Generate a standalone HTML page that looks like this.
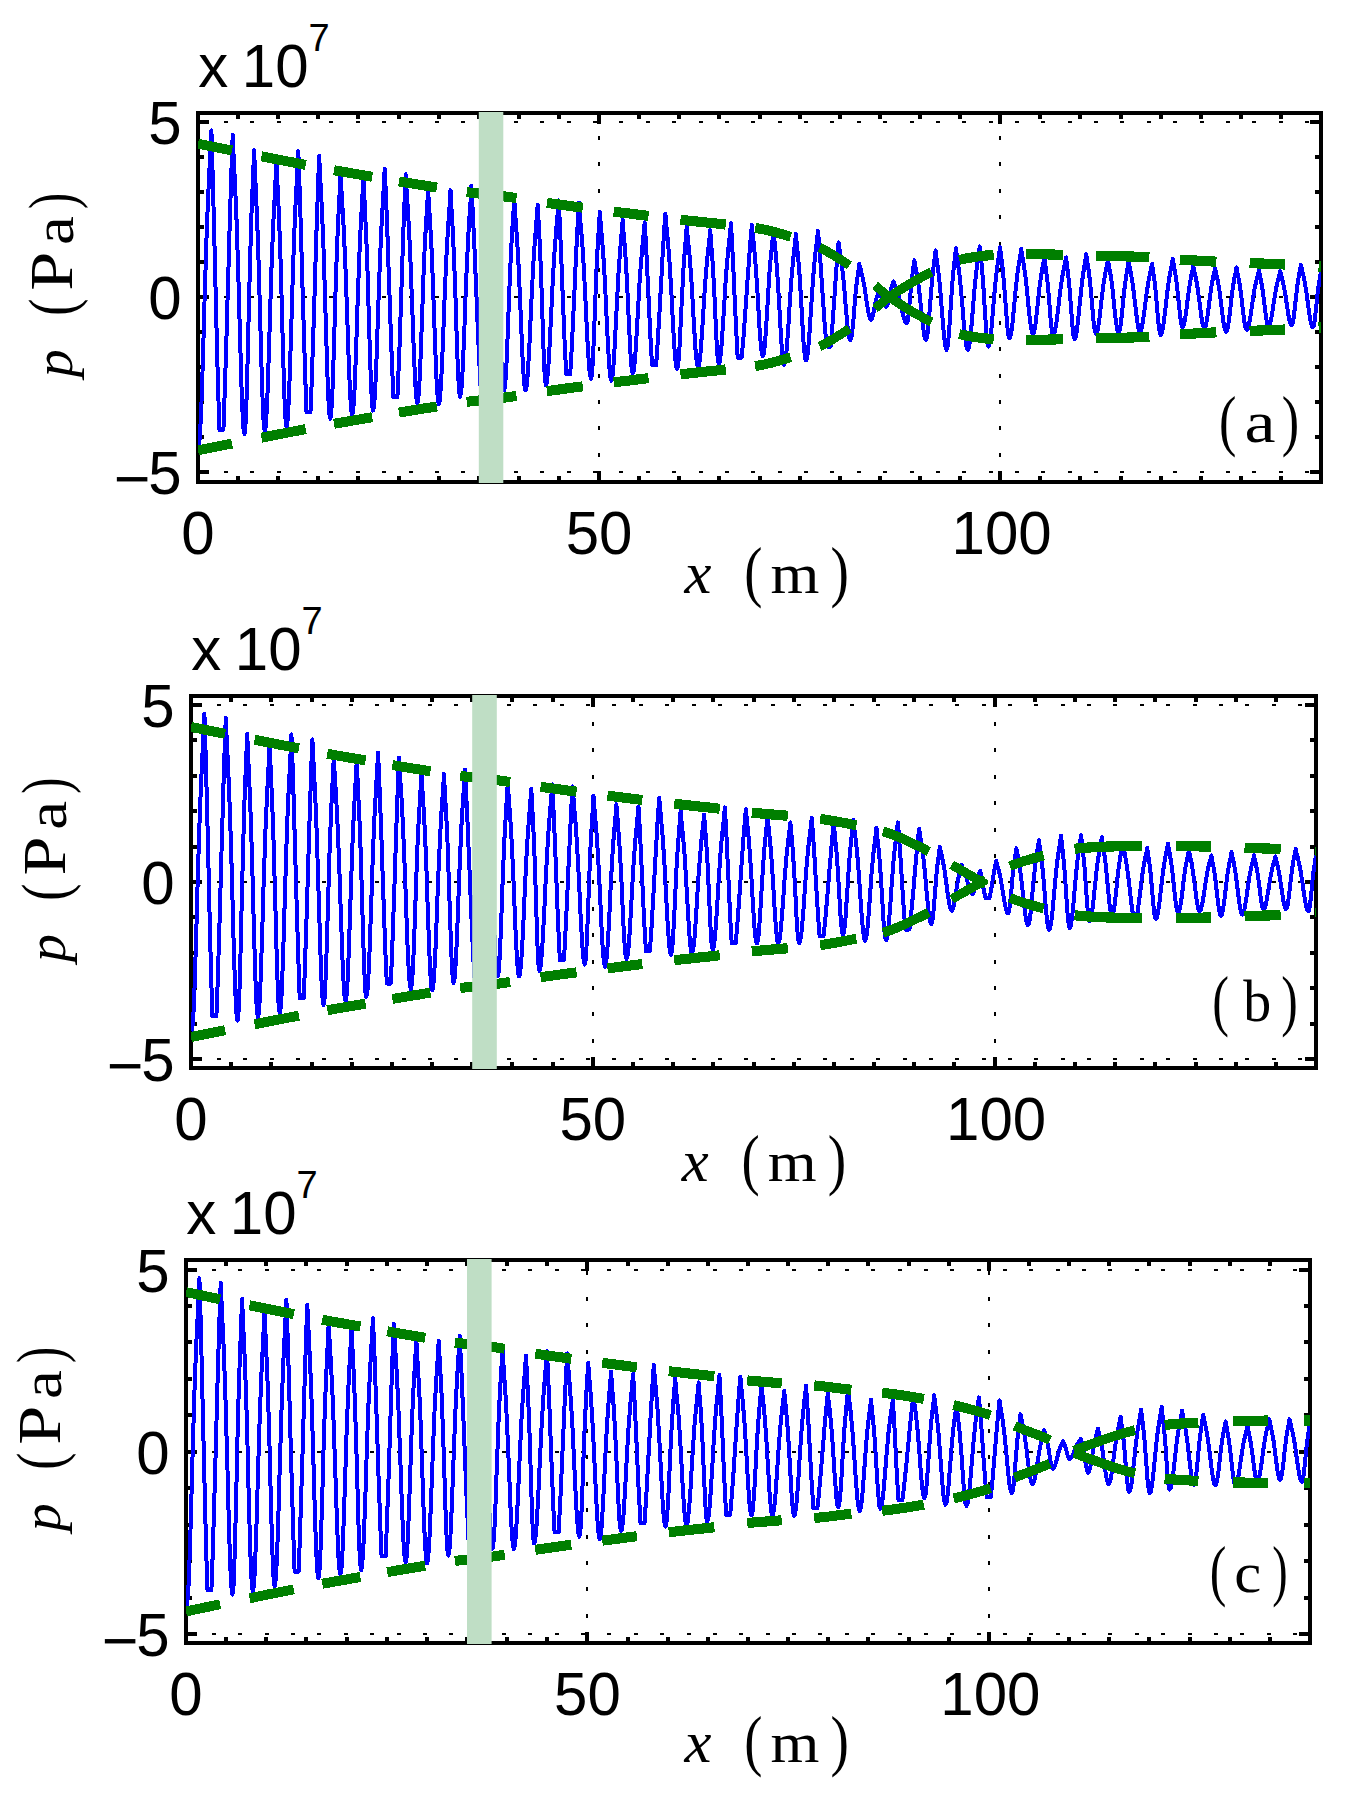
<!DOCTYPE html>
<html lang="en"><head><meta charset="utf-8"><title>Pressure waveforms</title>
<style>
html,body{margin:0;padding:0;background:#fff;}
svg{display:block;}
</style></head>
<body>
<svg width="1358" height="1798" viewBox="0 0 1358 1798">
<rect width="1358" height="1798" fill="#fff"/>
<g id="panel-a">
<clipPath id="clip-a"><rect x="198" y="113" width="1123" height="369"/></clipPath>
<g stroke="#000" stroke-width="2" fill="none" shape-rendering="crispEdges"><line x1="224" y1="122" x2="1321" y2="122" stroke-dasharray="4 22.366"/><line x1="224" y1="297.0" x2="1321" y2="297.0" stroke-dasharray="4 22.366"/><line x1="224" y1="472" x2="1321" y2="472" stroke-dasharray="4 22.366"/><line x1="599.1" y1="483.2" x2="599.1" y2="113" stroke-dasharray="4 22.4"/><line x1="1000.1" y1="483.2" x2="1000.1" y2="113" stroke-dasharray="4 22.4"/></g>
<path d="M198.0 113 v11.2 M198.0 482 v-11.2 M238.1 113 v5.6 M238.1 482 v-5.6 M278.2 113 v5.6 M278.2 482 v-5.6 M318.3 113 v5.6 M318.3 482 v-5.6 M358.4 113 v5.6 M358.4 482 v-5.6 M398.5 113 v5.6 M398.5 482 v-5.6 M438.6 113 v5.6 M438.6 482 v-5.6 M478.8 113 v5.6 M478.8 482 v-5.6 M518.9 113 v5.6 M518.9 482 v-5.6 M559.0 113 v5.6 M559.0 482 v-5.6 M599.1 113 v11.2 M599.1 482 v-11.2 M639.2 113 v5.6 M639.2 482 v-5.6 M679.3 113 v5.6 M679.3 482 v-5.6 M719.4 113 v5.6 M719.4 482 v-5.6 M759.5 113 v5.6 M759.5 482 v-5.6 M799.6 113 v5.6 M799.6 482 v-5.6 M839.7 113 v5.6 M839.7 482 v-5.6 M879.8 113 v5.6 M879.8 482 v-5.6 M919.9 113 v5.6 M919.9 482 v-5.6 M960.0 113 v5.6 M960.0 482 v-5.6 M1000.1 113 v11.2 M1000.1 482 v-11.2 M1040.2 113 v5.6 M1040.2 482 v-5.6 M1080.4 113 v5.6 M1080.4 482 v-5.6 M1120.5 113 v5.6 M1120.5 482 v-5.6 M1160.6 113 v5.6 M1160.6 482 v-5.6 M1200.7 113 v5.6 M1200.7 482 v-5.6 M1240.8 113 v5.6 M1240.8 482 v-5.6 M1280.9 113 v5.6 M1280.9 482 v-5.6 M1321.0 113 v5.6 M1321.0 482 v-5.6 M198 472.0 h11.2 M1321 472.0 h-11.2 M198 437.0 h5.6 M1321 437.0 h-5.6 M198 402.0 h5.6 M1321 402.0 h-5.6 M198 367.0 h5.6 M1321 367.0 h-5.6 M198 332.0 h5.6 M1321 332.0 h-5.6 M198 297.0 h11.2 M1321 297.0 h-11.2 M198 262.0 h5.6 M1321 262.0 h-5.6 M198 227.0 h5.6 M1321 227.0 h-5.6 M198 192.0 h5.6 M1321 192.0 h-5.6 M198 157.0 h5.6 M1321 157.0 h-5.6 M198 122.0 h11.2 M1321 122.0 h-11.2" stroke="#000" stroke-width="4" fill="none" shape-rendering="crispEdges"/>
<rect x="198" y="113" width="1123" height="369" fill="none" stroke="#000" stroke-width="4"/>
<path clip-path="url(#clip-a)" d="M198.5 444.8 L199.4 441.1 L200.2 430.0 L201.1 412.2 L202.0 388.9 L202.8 361.7 L203.7 332.2 L204.5 302.2 L205.4 273.3 L206.2 246.6 L207.1 222.7 L207.9 201.8 L208.8 183.4 L209.6 166.5 L210.5 149.5 L211.4 130.4 L211.4 130.4 L212.2 158.8 L213.1 190.6 L214.0 225.2 L214.9 261.6 L215.8 298.6 L216.7 335.0 L217.6 369.6 L218.5 401.4 L219.4 429.8 L223.4 429.8 L224.2 407.2 L225.1 382.2 L225.9 355.2 L226.8 326.7 L227.6 297.2 L228.5 267.3 L229.3 237.8 L230.2 209.2 L231.0 182.3 L231.9 157.3 L232.7 134.7 L232.7 134.7 L233.5 154.1 L234.4 171.3 L235.2 188.7 L236.1 208.1 L236.9 230.4 L237.7 255.9 L238.6 284.4 L239.4 314.6 L240.3 345.1 L241.1 373.8 L241.9 398.7 L242.8 418.0 L243.6 430.1 L244.5 434.1 L244.5 434.1 L245.3 427.9 L246.2 409.7 L247.1 381.5 L247.9 347.1 L248.8 310.3 L249.7 274.7 L250.6 243.0 L251.4 216.3 L252.3 193.9 L253.2 173.2 L254.1 150.2 L254.1 150.2 L255.0 171.2 L255.8 189.9 L256.7 209.7 L257.6 232.6 L258.5 259.7 L259.4 290.6 L260.3 323.7 L261.2 356.7 L262.1 386.6 L263.0 410.5 L263.8 425.8 L264.7 430.9 L264.7 430.9 L265.6 427.3 L266.4 416.4 L267.3 399.1 L268.1 376.6 L268.9 350.7 L269.8 323.3 L270.6 296.1 L271.4 270.5 L272.3 247.5 L273.1 227.4 L274.0 210.0 L274.8 194.4 L275.6 178.8 L276.5 161.4 L276.5 161.4 L277.3 181.2 L278.2 198.9 L279.0 217.5 L279.8 239.2 L280.7 264.8 L281.5 294.0 L282.3 325.3 L283.2 356.5 L284.0 384.8 L284.8 407.3 L285.7 421.8 L286.5 426.6 L286.5 426.6 L287.4 422.9 L288.2 411.8 L289.0 394.1 L289.9 371.1 L290.7 344.7 L291.6 316.7 L292.4 288.9 L293.2 262.7 L294.1 239.2 L294.9 218.6 L295.7 200.9 L296.6 184.8 L297.4 169.0 L298.3 151.1 L298.3 151.1 L299.2 175.9 L300.1 203.6 L301.0 233.7 L301.9 265.5 L302.8 297.7 L303.8 329.4 L304.7 359.6 L305.6 387.3 L306.5 412.1 L310.5 412.1 L311.4 390.4 L312.2 366.2 L313.1 340.1 L314.0 312.5 L314.9 284.1 L315.7 255.7 L316.6 228.0 L317.5 201.9 L318.3 177.8 L319.2 156.0 L319.2 156.0 L320.0 174.3 L320.9 190.5 L321.8 207.2 L322.6 226.1 L323.5 248.3 L324.3 273.7 L325.2 301.5 L326.0 330.4 L326.9 358.3 L327.7 383.0 L328.6 402.4 L329.4 414.6 L330.3 418.7 L330.3 418.7 L331.1 414.2 L332.0 400.9 L332.9 380.0 L333.7 353.8 L334.6 324.9 L335.4 295.9 L336.3 268.9 L337.1 245.2 L338.0 225.1 L338.8 207.8 L339.7 191.4 L340.5 173.1 L340.5 173.1 L341.4 188.8 L342.2 202.7 L343.1 216.8 L343.9 232.4 L344.7 250.4 L345.6 271.0 L346.4 294.0 L347.3 318.4 L348.1 343.0 L348.9 366.2 L349.8 386.3 L350.6 401.9 L351.5 411.6 L352.3 414.9 L352.3 414.9 L353.1 411.2 L354.0 400.1 L354.9 382.6 L355.7 360.3 L356.6 335.0 L357.4 308.9 L358.3 283.7 L359.1 260.8 L360.0 240.8 L360.8 223.6 L361.7 208.5 L362.5 193.9 L363.4 177.4 L363.4 177.4 L364.3 196.2 L365.1 213.2 L366.0 231.6 L366.9 253.6 L367.8 279.7 L368.6 308.9 L369.5 339.1 L370.4 367.4 L371.3 390.5 L372.1 405.5 L373.0 410.6 L373.0 410.6 L373.8 407.4 L374.7 397.6 L375.5 382.1 L376.4 361.9 L377.2 338.7 L378.0 314.1 L378.9 289.7 L379.7 266.7 L380.6 246.1 L381.4 228.1 L382.2 212.5 L383.1 198.4 L383.9 184.5 L384.7 168.8 L384.7 168.8 L385.6 188.2 L386.5 209.8 L387.4 233.1 L388.2 257.7 L389.1 283.1 L390.0 308.4 L390.8 333.1 L391.7 356.4 L392.6 378.0 L393.4 397.4 L397.4 397.4 L398.3 376.2 L399.3 352.5 L400.2 326.7 L401.1 299.6 L402.0 272.0 L402.9 244.8 L403.8 219.1 L404.8 195.3 L405.7 174.2 L405.7 174.2 L406.5 189.0 L407.4 202.2 L408.2 215.5 L409.0 230.3 L409.9 247.3 L410.7 266.9 L411.5 288.6 L412.4 311.8 L413.2 335.0 L414.1 357.0 L414.9 376.1 L415.7 390.8 L416.6 400.1 L417.4 403.1 L417.4 403.1 L418.3 399.2 L419.2 387.6 L420.1 369.4 L421.0 346.5 L421.9 321.4 L422.8 296.1 L423.6 272.6 L424.5 251.9 L425.4 234.4 L426.3 219.4 L427.2 205.1 L428.1 189.1 L428.1 189.1 L429.0 205.2 L429.9 219.5 L430.8 234.7 L431.7 252.2 L432.5 273.0 L433.4 296.7 L434.3 322.0 L435.2 347.3 L436.1 370.3 L437.0 388.6 L437.9 400.3 L438.8 404.2 L438.8 404.2 L439.6 401.3 L440.4 392.7 L441.3 378.9 L442.1 361.1 L443.0 340.6 L443.8 318.8 L444.6 297.2 L445.5 276.9 L446.3 258.6 L447.2 242.6 L448.0 228.8 L448.8 216.4 L449.7 204.1 L450.5 190.2 L450.5 190.2 L451.4 206.9 L452.3 221.9 L453.1 238.2 L454.0 257.7 L454.9 280.8 L455.8 306.6 L456.6 333.4 L457.5 358.5 L458.4 378.9 L459.3 392.2 L460.1 396.7 L460.1 396.7 L461.0 393.4 L461.9 383.6 L462.7 368.1 L463.6 348.3 L464.5 325.9 L465.3 302.7 L466.2 280.3 L467.1 259.9 L468.0 242.2 L468.8 227.0 L469.7 213.6 L470.6 200.5 L471.4 185.9 L471.4 185.9 L472.3 201.7 L473.1 219.1 L474.0 237.8 L474.9 257.7 L475.7 278.2 L476.6 299.0 L477.4 319.6 L478.3 339.5 L479.1 358.2 L480.0 375.6 L480.8 391.4 L484.8 391.4 L485.7 372.5 L486.6 351.3 L487.6 328.3 L488.5 304.1 L489.4 279.5 L490.3 255.4 L491.2 232.4 L492.1 211.2 L493.1 192.3 L493.1 192.3 L493.9 206.1 L494.8 218.3 L495.6 230.9 L496.5 245.2 L497.3 261.8 L498.2 281.0 L499.0 302.0 L499.9 323.8 L500.7 344.8 L501.6 363.4 L502.5 378.0 L503.3 387.2 L504.2 390.3 L504.2 390.3 L505.0 386.8 L505.8 376.4 L506.7 360.1 L507.5 339.7 L508.3 317.1 L509.2 294.5 L510.0 273.4 L510.9 255.0 L511.7 239.3 L512.5 225.8 L513.4 213.0 L514.2 198.7 L514.2 198.7 L515.1 212.0 L515.9 223.9 L516.8 236.0 L517.7 249.9 L518.6 266.0 L519.4 284.5 L520.3 304.8 L521.2 325.9 L522.0 346.3 L522.9 364.3 L523.8 378.4 L524.6 387.3 L525.5 390.3 L525.5 390.3 L526.4 387.8 L527.3 380.3 L528.1 368.4 L529.0 352.9 L529.9 335.1 L530.7 316.2 L531.6 297.5 L532.5 279.9 L533.3 264.0 L534.2 250.2 L535.1 238.2 L536.0 227.4 L536.8 216.7 L537.7 204.7 L537.7 204.7 L538.6 222.2 L539.5 238.5 L540.4 257.6 L541.3 281.4 L542.2 308.9 L543.1 337.3 L544.0 362.2 L544.9 379.1 L545.8 385.0 L545.8 385.0 L546.7 382.8 L547.5 376.3 L548.4 365.9 L549.2 352.2 L550.1 336.2 L550.9 318.9 L551.8 301.3 L552.6 284.3 L553.5 268.6 L554.3 254.6 L555.2 242.3 L556.1 231.5 L556.9 221.6 L557.8 211.7 L558.6 200.4 L558.6 200.4 L559.5 216.9 L560.3 235.4 L561.2 255.5 L562.0 276.6 L562.8 298.1 L563.7 319.2 L564.5 339.3 L565.4 357.8 L566.2 374.3 L570.2 374.3 L571.1 359.7 L572.0 343.5 L572.8 326.0 L573.7 307.5 L574.6 288.4 L575.4 269.4 L576.3 250.9 L577.2 233.3 L578.0 217.1 L578.9 202.6 L578.9 202.6 L579.8 214.0 L580.6 224.1 L581.5 234.4 L582.4 245.7 L583.3 258.8 L584.1 273.8 L585.0 290.6 L585.9 308.3 L586.7 326.2 L587.6 343.1 L588.5 357.8 L589.3 369.1 L590.2 376.2 L591.1 378.6 L591.1 378.6 L592.0 374.2 L592.8 361.3 L593.7 341.9 L594.6 318.8 L595.5 295.0 L596.3 273.3 L597.2 254.8 L598.1 239.7 L599.0 226.3 L599.8 211.5 L599.8 211.5 L600.7 223.3 L601.6 233.7 L602.5 244.5 L603.4 256.7 L604.3 270.9 L605.2 287.3 L606.0 305.2 L606.9 323.8 L607.8 341.8 L608.7 357.7 L609.6 370.2 L610.5 378.1 L611.4 380.7 L611.4 380.7 L612.2 378.2 L613.1 370.7 L614.0 358.9 L614.8 343.8 L615.7 326.7 L616.6 309.1 L617.5 292.0 L618.3 276.5 L619.2 262.9 L620.1 251.4 L620.9 241.1 L621.8 231.2 L622.7 220.1 L622.7 220.1 L623.5 231.5 L624.4 241.7 L625.2 252.5 L626.0 265.0 L626.9 279.8 L627.7 296.7 L628.5 314.7 L629.4 332.7 L630.2 349.1 L631.0 362.1 L631.9 370.4 L632.7 373.2 L632.7 373.2 L633.6 371.2 L634.4 365.1 L635.3 355.4 L636.1 342.8 L637.0 328.3 L637.8 313.0 L638.7 297.7 L639.5 283.4 L640.4 270.5 L641.3 259.2 L642.1 249.5 L643.0 240.7 L643.8 232.0 L644.7 222.2 L644.7 222.2 L645.6 237.6 L646.5 255.0 L647.4 274.0 L648.4 293.8 L649.3 313.6 L650.2 332.5 L651.1 349.9 L652.1 365.3 L656.1 365.3 L656.9 353.7 L657.8 340.9 L658.6 327.0 L659.5 312.3 L660.3 297.2 L661.2 281.8 L662.0 266.7 L662.8 252.0 L663.7 238.1 L664.5 225.3 L665.4 213.7 L665.4 213.7 L666.2 223.7 L667.1 232.7 L667.9 241.7 L668.7 251.7 L669.6 263.3 L670.4 276.6 L671.3 291.3 L672.1 307.0 L672.9 322.8 L673.8 337.7 L674.6 350.6 L675.5 360.6 L676.3 366.9 L677.1 369.0 L677.1 369.0 L678.0 365.9 L678.9 356.7 L679.8 342.6 L680.6 325.3 L681.5 306.8 L682.4 289.0 L683.2 273.1 L684.1 259.6 L685.0 248.4 L685.9 238.0 L686.7 226.5 L686.7 226.5 L687.6 236.3 L688.5 245.0 L689.4 253.9 L690.2 264.1 L691.1 276.0 L692.0 289.6 L692.8 304.6 L693.7 320.1 L694.6 335.1 L695.4 348.3 L696.3 358.7 L697.2 365.3 L698.1 367.5 L698.1 367.5 L698.9 365.6 L699.8 360.1 L700.7 351.3 L701.5 339.8 L702.4 326.7 L703.3 312.7 L704.1 298.9 L705.0 285.9 L705.9 274.2 L706.8 263.9 L707.6 255.1 L708.5 247.1 L709.4 239.2 L710.2 230.3 L710.2 230.3 L711.1 242.1 L711.9 252.9 L712.8 265.0 L713.6 279.7 L714.5 297.2 L715.4 316.2 L716.2 334.7 L717.1 350.2 L717.9 360.5 L718.8 364.0 L718.8 364.0 L719.6 362.2 L720.5 356.5 L721.4 347.4 L722.2 335.7 L723.1 322.2 L724.0 307.9 L724.9 293.7 L725.7 280.3 L726.6 268.3 L727.5 257.8 L728.3 248.7 L729.2 240.5 L730.1 232.4 L730.9 223.3 L730.9 223.3 L731.8 237.7 L732.6 254.1 L733.5 271.9 L734.3 290.5 L735.2 309.0 L736.0 326.8 L736.9 343.2 L737.7 357.6 L741.7 357.6 L742.5 348.3 L743.4 338.2 L744.2 327.2 L745.1 315.6 L745.9 303.6 L746.8 291.3 L747.6 279.0 L748.5 267.0 L749.3 255.4 L750.2 244.5 L751.0 234.3 L751.9 225.0 L751.9 225.0 L752.7 234.1 L753.6 242.2 L754.4 250.5 L755.2 260.0 L756.1 271.0 L756.9 283.7 L757.8 297.6 L758.6 312.1 L759.4 326.0 L760.3 338.3 L761.1 348.0 L762.0 354.1 L762.8 356.1 L762.8 356.1 L763.7 353.8 L764.6 347.0 L765.5 336.3 L766.4 322.9 L767.3 308.1 L768.2 293.2 L769.0 279.4 L769.9 267.3 L770.8 257.0 L771.7 248.1 L772.6 239.7 L773.5 230.3 L773.5 230.3 L774.4 240.4 L775.3 249.3 L776.2 258.8 L777.0 269.8 L777.9 282.7 L778.8 297.5 L779.7 313.4 L780.6 329.2 L781.5 343.5 L782.4 354.9 L783.3 362.2 L784.2 364.7 L784.2 364.7 L785.0 362.9 L785.8 357.7 L786.7 349.3 L787.5 338.4 L788.4 325.8 L789.2 312.5 L790.0 299.3 L790.9 286.9 L791.7 275.7 L792.6 266.0 L793.4 257.6 L794.2 250.0 L795.1 242.4 L795.9 234.0 L795.9 234.0 L796.7 243.4 L797.6 251.8 L798.4 260.7 L799.3 271.1 L800.1 283.3 L800.9 297.2 L801.8 312.1 L802.6 327.0 L803.4 340.5 L804.3 351.2 L805.1 358.1 L805.9 360.4 L805.9 360.4 L806.8 358.7 L807.7 353.5 L808.5 345.1 L809.4 334.3 L810.2 321.9 L811.1 308.7 L811.9 295.6 L812.8 283.3 L813.6 272.2 L814.5 262.5 L815.3 254.2 L816.2 246.6 L817.1 239.2 L817.9 230.8 L817.9 230.8 L818.8 240.6 L819.6 251.5 L820.5 263.3 L821.4 275.8 L822.2 288.6 L823.1 301.5 L824.0 314.0 L824.8 325.8 L825.7 336.7 L826.6 346.5 L830.6 346.5 L831.5 336.7 L832.4 325.6 L833.3 313.6 L834.2 300.9 L835.0 288.1 L835.9 275.4 L836.8 263.4 L837.7 252.4 L838.6 242.5 L838.6 242.5 L839.5 248.8 L840.3 254.5 L841.1 260.1 L842.0 266.4 L842.8 273.7 L843.7 282.0 L844.5 291.3 L845.3 301.2 L846.2 311.1 L847.0 320.5 L847.8 328.6 L848.7 334.9 L849.5 338.8 L850.4 340.1 L850.4 340.1 L851.3 338.1 L852.2 332.2 L853.1 323.4 L854.0 312.8 L854.8 302.0 L855.7 292.0 L856.6 283.6 L857.5 276.7 L858.4 270.6 L859.3 263.9 L859.3 263.9 L860.2 267.5 L861.0 270.7 L861.8 274.0 L862.7 277.6 L863.5 281.7 L864.4 286.5 L865.2 291.8 L866.0 297.5 L866.9 303.2 L867.7 308.6 L868.6 313.2 L869.4 316.8 L870.2 319.1 L871.1 319.8 L871.1 319.8 L872.0 318.7 L872.9 315.5 L873.8 310.9 L874.8 305.9 L875.7 301.5 L876.6 297.9 L877.5 295.0 L878.5 292.0 L878.5 292.0 L879.3 293.5 L880.2 294.8 L881.1 296.4 L881.9 298.3 L882.8 300.6 L883.7 302.9 L884.5 304.9 L885.4 306.3 L886.3 306.8 L886.3 306.8 L887.2 305.8 L888.1 302.8 L889.0 298.6 L889.9 294.1 L890.8 290.1 L891.7 286.8 L892.7 284.2 L893.6 281.4 L893.6 281.4 L894.5 284.0 L895.3 286.3 L896.2 288.5 L897.1 291.0 L898.0 293.7 L898.9 296.9 L899.8 300.5 L900.6 304.4 L901.5 308.4 L902.4 312.3 L903.3 315.9 L904.2 319.0 L905.1 321.4 L905.9 322.9 L906.8 323.4 L906.8 323.4 L907.7 321.3 L908.5 315.4 L909.3 306.7 L910.2 296.7 L911.0 287.1 L911.9 278.8 L912.7 272.1 L913.5 266.4 L914.4 260.2 L914.4 260.2 L915.3 265.8 L916.2 270.7 L917.1 275.7 L918.0 281.5 L918.9 288.2 L919.8 295.9 L920.7 304.4 L921.6 313.1 L922.5 321.6 L923.4 329.1 L924.2 335.0 L925.1 338.7 L926.0 339.9 L926.0 339.9 L926.9 338.0 L927.8 332.2 L928.6 323.3 L929.5 312.5 L930.4 300.8 L931.3 289.6 L932.1 279.6 L933.0 271.1 L933.9 264.1 L934.7 257.5 L935.6 250.3 L935.6 250.3 L936.4 257.2 L937.3 263.3 L938.1 269.7 L939.0 276.9 L939.8 285.3 L940.7 294.9 L941.5 305.5 L942.4 316.4 L943.2 327.0 L944.1 336.4 L944.9 343.7 L945.7 348.3 L946.6 349.9 L946.6 349.9 L947.4 347.7 L948.3 341.1 L949.1 331.1 L950.0 318.7 L950.8 305.6 L951.7 292.8 L952.5 281.5 L953.3 271.9 L954.2 263.9 L955.0 256.5 L955.9 248.3 L955.9 248.3 L956.7 254.9 L957.6 260.7 L958.4 266.6 L959.3 273.2 L960.1 280.8 L961.0 289.4 L961.8 299.1 L962.7 309.3 L963.5 319.7 L964.4 329.4 L965.2 337.9 L966.1 344.4 L966.9 348.5 L967.8 349.9 L967.8 349.9 L968.7 348.5 L969.5 344.3 L970.4 337.7 L971.2 329.0 L972.1 319.1 L972.9 308.6 L973.8 298.1 L974.6 288.3 L975.5 279.4 L976.3 271.7 L977.2 265.0 L978.0 259.0 L978.9 253.0 L979.7 246.3 L979.7 246.3 L980.6 255.2 L981.5 263.2 L982.3 272.3 L983.2 283.4 L984.0 296.4 L984.9 310.7 L985.8 324.5 L986.6 336.2 L987.5 343.9 L988.3 346.6 L988.3 346.6 L989.2 345.0 L990.1 340.4 L991.0 333.0 L991.9 323.7 L992.8 313.1 L993.7 302.1 L994.6 291.6 L995.5 281.9 L996.4 273.6 L997.3 266.4 L998.2 260.0 L999.1 253.9 L1000.0 247.0 L1000.0 247.0 L1000.9 254.3 L1001.7 261.0 L1002.6 268.2 L1003.4 276.7 L1004.3 286.9 L1005.2 298.3 L1006.0 310.1 L1006.9 321.1 L1007.7 330.2 L1008.6 336.0 L1009.4 338.0 L1009.4 338.0 L1010.3 336.8 L1011.1 333.2 L1012.0 327.5 L1012.8 320.1 L1013.6 311.5 L1014.5 302.4 L1015.3 293.4 L1016.2 285.0 L1017.0 277.4 L1017.8 270.7 L1018.7 265.0 L1019.5 259.8 L1020.4 254.7 L1021.2 248.9 L1021.2 248.9 L1022.0 254.4 L1022.9 259.3 L1023.7 264.2 L1024.5 269.7 L1025.4 276.0 L1026.2 283.3 L1027.1 291.3 L1027.9 299.9 L1028.7 308.5 L1029.6 316.6 L1030.4 323.7 L1031.3 329.2 L1032.1 332.6 L1032.9 333.7 L1032.9 333.7 L1033.8 332.5 L1034.7 329.0 L1035.6 323.4 L1036.4 316.2 L1037.3 308.1 L1038.2 299.7 L1039.0 291.6 L1039.9 284.2 L1040.8 277.8 L1041.7 272.3 L1042.5 267.5 L1043.4 262.7 L1044.3 257.4 L1044.3 257.4 L1045.2 264.3 L1046.1 270.5 L1047.0 277.5 L1047.9 286.0 L1048.8 296.1 L1049.7 307.1 L1050.5 317.8 L1051.4 326.8 L1052.3 332.7 L1053.2 334.8 L1053.2 334.8 L1054.1 333.9 L1054.9 331.2 L1055.8 326.8 L1056.7 321.0 L1057.5 314.3 L1058.4 307.1 L1059.2 299.7 L1060.1 292.6 L1060.9 286.0 L1061.8 280.1 L1062.6 275.0 L1063.5 270.5 L1064.3 266.3 L1065.2 262.2 L1066.1 257.4 L1066.1 257.4 L1066.9 264.6 L1067.8 271.2 L1068.6 278.6 L1069.5 287.6 L1070.3 298.3 L1071.2 309.8 L1072.0 321.1 L1072.9 330.6 L1073.7 336.9 L1074.6 339.1 L1074.6 339.1 L1075.4 337.9 L1076.3 334.5 L1077.1 329.0 L1077.9 322.0 L1078.8 313.8 L1079.6 305.2 L1080.5 296.7 L1081.3 288.6 L1082.1 281.3 L1083.0 275.0 L1083.8 269.6 L1084.7 264.6 L1085.5 259.7 L1086.3 254.2 L1086.3 254.2 L1087.2 260.7 L1088.1 266.5 L1089.0 272.7 L1089.8 280.2 L1090.7 289.1 L1091.6 299.1 L1092.5 309.4 L1093.3 319.0 L1094.2 326.9 L1095.1 332.0 L1095.9 333.7 L1095.9 333.7 L1096.8 332.7 L1097.7 329.7 L1098.5 325.0 L1099.4 318.8 L1100.2 311.7 L1101.1 304.1 L1101.9 296.7 L1102.8 289.6 L1103.6 283.3 L1104.5 277.8 L1105.3 273.0 L1106.2 268.7 L1107.1 264.4 L1107.9 259.6 L1107.9 259.6 L1108.8 265.0 L1109.7 269.9 L1110.6 275.1 L1111.5 281.0 L1112.4 288.1 L1113.2 296.1 L1114.1 304.7 L1115.0 313.3 L1115.9 321.1 L1116.8 327.3 L1117.7 331.3 L1118.6 332.7 L1118.6 332.7 L1119.4 331.4 L1120.3 327.5 L1121.1 321.5 L1121.9 313.9 L1122.8 305.6 L1123.6 297.2 L1124.4 289.4 L1125.3 282.5 L1126.1 276.7 L1126.9 271.7 L1127.8 267.0 L1128.6 261.7 L1128.6 261.7 L1129.5 266.6 L1130.4 270.9 L1131.2 275.3 L1132.1 280.4 L1133.0 286.3 L1133.8 293.0 L1134.7 300.4 L1135.6 308.1 L1136.5 315.5 L1137.3 322.1 L1138.2 327.2 L1139.1 330.5 L1139.9 331.6 L1139.9 331.6 L1140.8 330.7 L1141.7 328.0 L1142.5 323.6 L1143.4 317.9 L1144.3 311.4 L1145.2 304.6 L1146.0 297.7 L1146.9 291.3 L1147.8 285.5 L1148.6 280.5 L1149.5 276.1 L1150.4 272.1 L1151.2 268.2 L1152.1 263.9 L1152.1 263.9 L1153.0 270.1 L1153.8 275.8 L1154.7 282.2 L1155.5 290.1 L1156.4 299.3 L1157.2 309.4 L1158.1 319.2 L1158.9 327.5 L1159.8 332.9 L1160.6 334.8 L1160.6 334.8 L1161.5 333.8 L1162.4 330.7 L1163.3 325.8 L1164.1 319.5 L1165.0 312.2 L1165.9 304.5 L1166.7 296.9 L1167.6 289.7 L1168.5 283.2 L1169.3 277.5 L1170.2 272.6 L1171.1 268.2 L1172.0 263.9 L1172.8 258.9 L1172.8 258.9 L1173.7 264.5 L1174.6 269.4 L1175.5 274.9 L1176.4 281.3 L1177.3 288.9 L1178.2 297.5 L1179.1 306.4 L1180.0 314.7 L1180.9 321.4 L1181.8 325.8 L1182.6 327.3 L1182.6 327.3 L1183.5 326.2 L1184.4 322.9 L1185.3 317.6 L1186.2 311.1 L1187.1 303.9 L1188.0 296.7 L1188.9 289.9 L1189.8 284.0 L1190.7 279.0 L1191.5 274.7 L1192.4 270.6 L1193.3 266.0 L1193.3 266.0 L1194.2 270.3 L1195.0 274.2 L1195.9 278.1 L1196.7 282.6 L1197.6 287.9 L1198.4 293.9 L1199.3 300.6 L1200.2 307.4 L1201.0 314.0 L1201.9 319.9 L1202.7 324.5 L1203.6 327.4 L1204.4 328.4 L1204.4 328.4 L1205.3 327.3 L1206.2 324.0 L1207.1 318.9 L1208.0 312.5 L1208.9 305.4 L1209.8 298.3 L1210.7 291.6 L1211.5 285.8 L1212.4 280.9 L1213.3 276.6 L1214.2 272.6 L1215.1 268.1 L1215.1 268.1 L1216.0 272.5 L1216.8 276.4 L1217.7 280.5 L1218.5 285.1 L1219.4 290.4 L1220.2 296.5 L1221.1 303.3 L1221.9 310.3 L1222.8 317.0 L1223.6 323.0 L1224.5 327.6 L1225.4 330.6 L1226.2 331.6 L1226.2 331.6 L1227.1 330.4 L1227.9 326.9 L1228.8 321.5 L1229.6 314.6 L1230.5 307.1 L1231.3 299.5 L1232.2 292.5 L1233.0 286.3 L1233.9 281.1 L1234.7 276.5 L1235.6 272.3 L1236.5 267.5 L1236.5 267.5 L1237.3 272.1 L1238.2 276.3 L1239.0 280.7 L1239.9 285.8 L1240.7 291.8 L1241.6 298.7 L1242.4 306.0 L1243.3 313.4 L1244.1 320.0 L1245.0 325.3 L1245.9 328.7 L1246.7 329.9 L1246.7 329.9 L1247.6 329.1 L1248.4 326.7 L1249.3 322.8 L1250.2 317.9 L1251.1 312.2 L1251.9 306.1 L1252.8 300.1 L1253.7 294.4 L1254.5 289.3 L1255.4 284.9 L1256.3 281.0 L1257.1 277.6 L1258.0 274.1 L1258.9 270.3 L1258.9 270.3 L1259.8 274.8 L1260.6 278.9 L1261.5 283.3 L1262.4 288.6 L1263.2 294.8 L1264.1 301.8 L1265.0 309.1 L1265.9 315.9 L1266.7 321.4 L1267.6 325.0 L1268.5 326.2 L1268.5 326.2 L1269.3 325.5 L1270.2 323.3 L1271.0 319.8 L1271.8 315.2 L1272.7 309.9 L1273.5 304.3 L1274.4 298.8 L1275.2 293.6 L1276.0 288.9 L1276.9 284.8 L1277.7 281.2 L1278.6 278.1 L1279.4 274.9 L1280.2 271.3 L1280.2 271.3 L1281.1 275.1 L1282.0 278.4 L1282.8 281.8 L1283.7 285.7 L1284.6 290.2 L1285.5 295.4 L1286.3 301.2 L1287.2 307.1 L1288.1 312.8 L1288.9 317.9 L1289.8 321.8 L1290.7 324.3 L1291.5 325.2 L1291.5 325.2 L1292.4 323.9 L1293.3 320.0 L1294.1 314.0 L1295.0 306.7 L1295.8 298.9 L1296.7 291.3 L1297.5 284.6 L1298.4 278.9 L1299.2 274.2 L1300.1 269.8 L1300.9 264.9 L1300.9 264.9 L1301.8 269.0 L1302.7 272.6 L1303.5 276.2 L1304.4 280.2 L1305.2 284.9 L1306.1 290.2 L1306.9 296.1 L1307.8 302.4 L1308.6 308.8 L1309.5 314.7 L1310.3 320.0 L1311.2 324.0 L1312.0 326.5 L1312.9 327.3 L1312.9 327.3 L1313.8 325.5 L1314.7 320.3 L1315.6 312.6 L1316.5 303.8 L1317.4 295.3 L1318.3 287.9 L1319.2 282.0 L1320.1 277.0 L1321.0 271.6" fill="none" stroke="#0000ff" stroke-width="4" stroke-linejoin="round" shape-rendering="crispEdges"/>
<path clip-path="url(#clip-a)" d="M199.0 138.8 L202.8 139.6 L206.6 140.4 L210.3 141.1 L214.1 141.9 L217.9 142.6 L221.7 143.4 L225.5 144.1 L229.3 144.9 L233.1 145.6 L231.1 155.4 L227.3 154.6 L223.5 153.9 L219.8 153.1 L216.0 152.4 L212.2 151.6 L208.4 150.8 L204.6 150.1 L200.8 149.3 L197.0 148.6Z M262.4 151.4 L266.1 152.2 L269.8 152.9 L273.5 153.6 L277.2 154.3 L280.8 155.0 L284.5 155.8 L288.2 156.5 L291.9 157.2 L295.6 157.9 L299.3 158.6 L303.0 159.3 L306.7 160.0 L304.8 169.8 L301.1 169.1 L297.4 168.4 L293.7 167.7 L290.0 166.9 L286.3 166.2 L282.6 165.5 L278.9 164.8 L275.3 164.1 L271.6 163.4 L267.9 162.6 L264.2 161.9 L260.5 161.2Z M334.9 165.3 L338.7 166.0 L342.5 166.6 L346.3 167.3 L350.2 167.9 L354.0 168.6 L357.8 169.2 L361.6 169.9 L365.4 170.5 L369.3 171.2 L373.1 171.9 L371.4 181.7 L367.6 181.0 L363.7 180.4 L359.9 179.7 L356.1 179.1 L352.3 178.4 L348.5 177.8 L344.6 177.1 L340.8 176.4 L337.0 175.8 L333.2 175.1Z M399.8 176.4 L403.6 177.1 L407.4 177.7 L411.2 178.3 L415.0 179.0 L418.8 179.6 L422.6 180.2 L426.4 180.8 L430.2 181.4 L434.0 182.0 L437.7 182.6 L436.2 192.5 L432.4 191.9 L428.6 191.3 L424.8 190.7 L421.0 190.1 L417.2 189.4 L413.4 188.8 L409.6 188.2 L405.8 187.6 L402.0 186.9 L398.2 186.3Z M467.4 187.1 L471.1 187.6 L474.9 188.0 L478.7 188.4 L482.6 188.8 L486.4 189.2 L490.2 189.7 L494.1 190.1 L497.9 190.5 L501.8 191.0 L505.6 191.5 L509.5 192.0 L513.4 192.6 L517.2 193.2 L515.7 203.1 L511.9 202.5 L508.1 202.0 L504.3 201.5 L500.5 201.0 L496.7 200.5 L492.9 200.1 L489.1 199.7 L485.3 199.3 L481.5 198.9 L477.6 198.5 L473.8 198.0 L469.9 197.6 L466.1 197.1Z M547.6 197.9 L551.6 198.4 L555.6 199.0 L559.6 199.5 L563.6 200.1 L567.6 200.6 L571.5 201.1 L575.5 201.7 L579.5 202.2 L583.5 202.7 L582.2 212.7 L578.2 212.2 L574.2 211.6 L570.2 211.1 L566.2 210.6 L562.2 210.0 L558.2 209.5 L554.2 208.9 L550.2 208.4 L546.2 207.8Z M614.4 206.6 L618.2 207.1 L622.1 207.6 L625.9 208.1 L629.8 208.5 L633.7 209.0 L637.5 209.5 L641.4 209.9 L645.2 210.4 L649.1 210.9 L647.9 220.9 L644.0 220.4 L640.2 219.9 L636.3 219.5 L632.4 219.0 L628.6 218.5 L624.7 218.1 L620.9 217.6 L617.0 217.1 L613.1 216.6Z M681.0 214.7 L684.7 215.1 L688.5 215.5 L692.3 215.9 L696.1 216.3 L699.8 216.7 L703.6 217.1 L707.4 217.5 L711.2 217.9 L715.0 218.3 L718.8 218.7 L722.6 219.1 L726.4 219.5 L725.2 229.6 L721.5 229.1 L717.7 228.7 L713.9 228.3 L710.1 227.9 L706.4 227.5 L702.6 227.1 L698.8 226.7 L695.0 226.4 L691.2 225.9 L687.4 225.5 L683.6 225.1 L679.8 224.7Z M755.9 223.0 L760.0 223.7 L764.0 224.5 L768.1 225.4 L772.2 226.4 L776.2 227.4 L780.2 228.6 L784.2 229.7 L788.2 230.9 L792.1 232.1 L789.3 241.4 L785.3 240.2 L781.4 239.1 L777.5 238.0 L773.6 236.9 L769.8 235.9 L765.9 235.0 L762.1 234.2 L758.3 233.5 L754.4 232.9Z M821.5 243.3 L825.4 245.2 L829.2 247.3 L833.0 249.5 L836.8 251.8 L840.6 254.2 L844.4 256.7 L848.2 259.2 L851.9 261.7 L846.8 269.3 L843.1 266.8 L839.4 264.4 L835.7 262.0 L832.0 259.7 L828.3 257.5 L824.7 255.5 L821.1 253.6 L817.5 251.9Z M877.8 281.9 L881.6 285.1 L885.4 288.2 L889.1 291.1 L892.7 293.7 L896.4 296.2 L900.2 298.7 L903.9 301.1 L907.6 303.4 L911.3 305.7 L915.1 307.9 L918.8 310.0 L922.5 312.0 L926.2 314.0 L929.9 316.0 L933.7 317.8 L929.4 326.3 L925.6 324.3 L921.8 322.3 L918.0 320.2 L914.2 318.1 L910.4 315.9 L906.6 313.6 L902.7 311.3 L898.9 308.9 L895.1 306.4 L891.3 303.8 L887.5 301.2 L883.5 298.3 L879.7 295.1 L875.9 292.0 L872.2 289.0Z M960.3 329.3 L964.0 330.1 L967.8 330.8 L971.5 331.4 L975.3 332.0 L979.0 332.6 L982.7 333.0 L986.4 333.4 L990.1 333.7 L993.9 334.0 L993.3 344.1 L989.4 343.8 L985.4 343.5 L981.5 343.0 L977.6 342.5 L973.7 341.9 L969.8 341.3 L965.9 340.6 L962.0 339.8 L958.2 338.9Z M1025.8 335.1 L1029.4 335.1 L1033.1 335.0 L1036.7 334.9 L1040.4 334.8 L1044.1 334.7 L1047.8 334.5 L1051.5 334.4 L1055.2 334.3 L1058.9 334.2 L1062.6 334.1 L1062.8 344.3 L1059.2 344.4 L1055.5 344.5 L1051.8 344.6 L1048.1 344.7 L1044.5 344.9 L1040.8 345.0 L1037.0 345.1 L1033.3 345.2 L1029.6 345.3 L1025.8 345.4Z M1096.3 333.2 L1100.1 333.1 L1103.8 333.0 L1107.6 332.9 L1111.4 332.8 L1115.2 332.7 L1119.0 332.6 L1122.8 332.6 L1126.5 332.5 L1130.3 332.4 L1134.1 332.3 L1137.8 332.2 L1141.6 332.0 L1145.4 331.9 L1149.1 331.8 L1149.6 342.0 L1145.8 342.1 L1142.0 342.3 L1138.2 342.4 L1134.4 342.5 L1130.6 342.6 L1126.8 342.7 L1123.0 342.8 L1119.2 342.9 L1115.4 343.0 L1111.6 343.1 L1107.9 343.2 L1104.1 343.2 L1100.3 343.3 L1096.5 343.4Z M1179.5 329.4 L1183.1 329.1 L1186.8 328.9 L1190.5 328.7 L1194.1 328.4 L1197.8 328.2 L1201.5 328.0 L1205.2 327.8 L1208.8 327.6 L1212.5 327.4 L1216.2 327.2 L1216.6 337.4 L1213.0 337.6 L1209.4 337.8 L1205.7 338.0 L1202.1 338.2 L1198.4 338.4 L1194.8 338.6 L1191.1 338.8 L1187.5 339.1 L1183.8 339.3 L1180.2 339.5Z M1249.4 325.8 L1253.3 325.7 L1257.3 325.5 L1261.2 325.4 L1265.1 325.2 L1269.0 325.1 L1272.9 324.9 L1276.8 324.8 L1280.8 324.6 L1284.7 324.4 L1285.1 334.6 L1281.2 334.8 L1277.3 335.0 L1273.3 335.1 L1269.4 335.3 L1265.5 335.4 L1261.6 335.6 L1257.6 335.7 L1253.7 335.9 L1249.8 336.0Z M1318.3 322.5 L1320.7 322.4 L1321.3 332.5 L1318.9 332.7Z M197.0 445.4 L200.8 444.7 L204.6 443.9 L208.4 443.2 L212.2 442.4 L216.0 441.6 L219.8 440.9 L223.5 440.1 L227.3 439.4 L231.1 438.6 L233.1 448.4 L229.3 449.1 L225.5 449.9 L221.7 450.6 L217.9 451.4 L214.1 452.1 L210.3 452.9 L206.6 453.6 L202.8 454.4 L199.0 455.2Z M260.5 432.8 L264.2 432.1 L267.9 431.4 L271.6 430.6 L275.3 429.9 L278.9 429.2 L282.6 428.5 L286.3 427.8 L290.0 427.1 L293.7 426.3 L297.4 425.6 L301.1 424.9 L304.8 424.2 L306.7 434.0 L303.0 434.7 L299.3 435.4 L295.6 436.1 L291.9 436.8 L288.2 437.5 L284.5 438.2 L280.8 439.0 L277.2 439.7 L273.5 440.4 L269.8 441.1 L266.1 441.8 L262.4 442.6Z M333.2 418.9 L337.0 418.2 L340.8 417.6 L344.6 416.9 L348.5 416.2 L352.3 415.6 L356.1 414.9 L359.9 414.3 L363.7 413.6 L367.6 413.0 L371.4 412.3 L373.1 422.1 L369.3 422.8 L365.4 423.5 L361.6 424.1 L357.8 424.8 L354.0 425.4 L350.2 426.1 L346.3 426.7 L342.5 427.4 L338.7 428.0 L334.9 428.7Z M398.2 407.7 L402.0 407.1 L405.8 406.4 L409.6 405.8 L413.4 405.2 L417.2 404.6 L421.0 403.9 L424.8 403.3 L428.6 402.7 L432.4 402.1 L436.2 401.5 L437.7 411.4 L434.0 412.0 L430.2 412.6 L426.4 413.2 L422.6 413.8 L418.8 414.4 L415.0 415.0 L411.2 415.7 L407.4 416.3 L403.6 416.9 L399.8 417.6Z M466.1 396.9 L469.9 396.4 L473.8 396.0 L477.6 395.5 L481.5 395.1 L485.3 394.7 L489.1 394.3 L492.9 393.9 L496.7 393.5 L500.5 393.0 L504.3 392.5 L508.1 392.0 L511.9 391.5 L515.7 390.9 L517.2 400.8 L513.4 401.4 L509.5 402.0 L505.6 402.5 L501.8 403.0 L497.9 403.5 L494.1 403.9 L490.2 404.3 L486.4 404.8 L482.6 405.2 L478.7 405.6 L474.9 406.0 L471.1 406.4 L467.4 406.9Z M546.2 386.2 L550.2 385.6 L554.2 385.1 L558.2 384.5 L562.2 384.0 L566.2 383.4 L570.2 382.9 L574.2 382.4 L578.2 381.8 L582.2 381.3 L583.5 391.3 L579.5 391.8 L575.5 392.3 L571.5 392.9 L567.6 393.4 L563.6 393.9 L559.6 394.5 L555.6 395.0 L551.6 395.6 L547.6 396.1Z M613.1 377.4 L617.0 376.9 L620.9 376.4 L624.7 375.9 L628.6 375.5 L632.4 375.0 L636.3 374.5 L640.2 374.1 L644.0 373.6 L647.9 373.1 L649.1 383.1 L645.2 383.6 L641.4 384.1 L637.5 384.5 L633.7 385.0 L629.8 385.5 L625.9 385.9 L622.1 386.4 L618.2 386.9 L614.4 387.4Z M679.8 369.3 L683.6 368.9 L687.4 368.5 L691.2 368.1 L695.0 367.6 L698.8 367.3 L702.6 366.9 L706.4 366.5 L710.1 366.1 L713.9 365.7 L717.7 365.3 L721.5 364.9 L725.2 364.4 L726.4 374.5 L722.6 374.9 L718.8 375.3 L715.0 375.7 L711.2 376.1 L707.4 376.5 L703.6 376.9 L699.8 377.3 L696.1 377.7 L692.3 378.1 L688.5 378.5 L684.7 378.9 L681.0 379.3Z M754.4 361.1 L758.3 360.5 L762.1 359.8 L765.9 359.0 L769.8 358.1 L773.6 357.1 L777.5 356.0 L781.4 354.9 L785.3 353.8 L789.3 352.6 L792.1 361.9 L788.2 363.1 L784.2 364.3 L780.2 365.4 L776.2 366.6 L772.2 367.6 L768.1 368.6 L764.0 369.5 L760.0 370.3 L755.9 371.0Z M817.5 342.1 L821.1 340.4 L824.7 338.5 L828.3 336.5 L832.0 334.3 L835.7 332.0 L839.4 329.6 L843.1 327.2 L846.8 324.7 L851.9 332.3 L848.2 334.8 L844.4 337.3 L840.6 339.8 L836.8 342.2 L833.0 344.5 L829.2 346.7 L825.4 348.8 L821.5 350.7Z M872.2 305.0 L875.9 302.0 L879.7 298.9 L883.5 295.7 L887.5 292.8 L891.3 290.2 L895.1 287.6 L898.9 285.1 L902.7 282.7 L906.6 280.4 L910.4 278.1 L914.2 275.9 L918.0 273.8 L921.8 271.7 L925.6 269.7 L929.4 267.7 L933.7 276.2 L929.9 278.0 L926.2 280.0 L922.5 282.0 L918.8 284.0 L915.1 286.1 L911.3 288.3 L907.6 290.6 L903.9 292.9 L900.2 295.3 L896.4 297.8 L892.7 300.3 L889.1 302.9 L885.4 305.8 L881.6 308.9 L877.8 312.1Z M958.2 255.1 L962.0 254.2 L965.9 253.4 L969.8 252.7 L973.7 252.1 L977.6 251.5 L981.5 251.0 L985.4 250.5 L989.4 250.2 L993.3 249.9 L993.9 260.0 L990.1 260.3 L986.4 260.6 L982.7 261.0 L979.0 261.4 L975.3 262.0 L971.5 262.6 L967.8 263.2 L964.0 263.9 L960.3 264.7Z M1025.8 248.6 L1029.6 248.7 L1033.3 248.8 L1037.0 248.9 L1040.8 249.0 L1044.5 249.1 L1048.1 249.3 L1051.8 249.4 L1055.5 249.5 L1059.2 249.6 L1062.8 249.7 L1062.6 259.9 L1058.9 259.8 L1055.2 259.7 L1051.5 259.6 L1047.8 259.5 L1044.1 259.3 L1040.4 259.2 L1036.7 259.1 L1033.1 259.0 L1029.4 258.9 L1025.8 258.9Z M1096.5 250.6 L1100.3 250.7 L1104.1 250.8 L1107.9 250.8 L1111.6 250.9 L1115.4 251.0 L1119.2 251.1 L1123.0 251.2 L1126.8 251.3 L1130.6 251.4 L1134.4 251.5 L1138.2 251.6 L1142.0 251.7 L1145.8 251.9 L1149.6 252.0 L1149.1 262.2 L1145.4 262.1 L1141.6 262.0 L1137.8 261.8 L1134.1 261.7 L1130.3 261.6 L1126.5 261.5 L1122.8 261.4 L1119.0 261.4 L1115.2 261.3 L1111.4 261.2 L1107.6 261.1 L1103.8 261.0 L1100.1 260.9 L1096.3 260.8Z M1180.2 254.5 L1183.8 254.7 L1187.5 254.9 L1191.1 255.2 L1194.8 255.4 L1198.4 255.6 L1202.1 255.8 L1205.7 256.0 L1209.4 256.2 L1213.0 256.4 L1216.6 256.6 L1216.2 266.8 L1212.5 266.6 L1208.8 266.4 L1205.2 266.2 L1201.5 266.0 L1197.8 265.8 L1194.1 265.6 L1190.5 265.3 L1186.8 265.1 L1183.1 264.9 L1179.5 264.6Z M1249.8 258.0 L1253.7 258.1 L1257.6 258.3 L1261.6 258.4 L1265.5 258.6 L1269.4 258.7 L1273.3 258.9 L1277.3 259.0 L1281.2 259.2 L1285.1 259.4 L1284.7 269.6 L1280.8 269.4 L1276.8 269.2 L1272.9 269.1 L1269.0 268.9 L1265.1 268.8 L1261.2 268.6 L1257.3 268.5 L1253.3 268.3 L1249.4 268.2Z M1318.9 261.3 L1321.3 261.5 L1320.7 271.6 L1318.3 271.5Z" fill="#007f00" stroke="none" shape-rendering="crispEdges"/>
<rect x="478.8" y="112" width="24.5" height="371" fill="#bfdec5"/>
<g font-family="'Liberation Sans', Arial, sans-serif" font-size="60" fill="#000">
<g class="exp"><text transform="translate(198.3,87.0) scale(1,1.03)">x </text><text transform="translate(308.5,87.0) scale(1,1.03)" text-anchor="end">10</text><text transform="translate(308.5,50.8) scale(1,1.03)" font-size="38">7</text></g>
<text transform="translate(181.7,144.3) scale(1,1.03)" text-anchor="end">5</text>
<text transform="translate(181.7,319.3) scale(1,1.03)" text-anchor="end">0</text>
<g class="neg"><text transform="translate(113.7,499.5) scale(1,1.03)" textLength="36.7" lengthAdjust="spacingAndGlyphs">−</text><text transform="translate(181.7,494.3) scale(1,1.03)" text-anchor="end">5</text></g>
<text transform="translate(198.0,553.8) scale(1,1.03)" text-anchor="middle">0</text>
<text transform="translate(599.1,553.8) scale(1,1.03)" text-anchor="middle">50</text>
<text transform="translate(1001.6,553.8) scale(1,1.03)" text-anchor="middle">100</text>
</g>
</g>
<g id="panel-b">
<clipPath id="clip-b"><rect x="191" y="696" width="1125" height="372"/></clipPath>
<g stroke="#000" stroke-width="2" fill="none" shape-rendering="crispEdges"><line x1="217" y1="705" x2="1316" y2="705" stroke-dasharray="4 22.366"/><line x1="217" y1="882.0" x2="1316" y2="882.0" stroke-dasharray="4 22.366"/><line x1="217" y1="1059" x2="1316" y2="1059" stroke-dasharray="4 22.366"/><line x1="592.8" y1="1069.2" x2="592.8" y2="696" stroke-dasharray="4 22.4"/><line x1="994.6" y1="1069.2" x2="994.6" y2="696" stroke-dasharray="4 22.4"/></g>
<path d="M191.0 696 v11.2 M191.0 1068 v-11.2 M231.2 696 v5.6 M231.2 1068 v-5.6 M271.4 696 v5.6 M271.4 1068 v-5.6 M311.5 696 v5.6 M311.5 1068 v-5.6 M351.7 696 v5.6 M351.7 1068 v-5.6 M391.9 696 v5.6 M391.9 1068 v-5.6 M432.1 696 v5.6 M432.1 1068 v-5.6 M472.2 696 v5.6 M472.2 1068 v-5.6 M512.4 696 v5.6 M512.4 1068 v-5.6 M552.6 696 v5.6 M552.6 1068 v-5.6 M592.8 696 v11.2 M592.8 1068 v-11.2 M633.0 696 v5.6 M633.0 1068 v-5.6 M673.1 696 v5.6 M673.1 1068 v-5.6 M713.3 696 v5.6 M713.3 1068 v-5.6 M753.5 696 v5.6 M753.5 1068 v-5.6 M793.7 696 v5.6 M793.7 1068 v-5.6 M833.9 696 v5.6 M833.9 1068 v-5.6 M874.0 696 v5.6 M874.0 1068 v-5.6 M914.2 696 v5.6 M914.2 1068 v-5.6 M954.4 696 v5.6 M954.4 1068 v-5.6 M994.6 696 v11.2 M994.6 1068 v-11.2 M1034.8 696 v5.6 M1034.8 1068 v-5.6 M1074.9 696 v5.6 M1074.9 1068 v-5.6 M1115.1 696 v5.6 M1115.1 1068 v-5.6 M1155.3 696 v5.6 M1155.3 1068 v-5.6 M1195.5 696 v5.6 M1195.5 1068 v-5.6 M1235.6 696 v5.6 M1235.6 1068 v-5.6 M1275.8 696 v5.6 M1275.8 1068 v-5.6 M1316.0 696 v5.6 M1316.0 1068 v-5.6 M191 1059.0 h11.2 M1316 1059.0 h-11.2 M191 1023.6 h5.6 M1316 1023.6 h-5.6 M191 988.2 h5.6 M1316 988.2 h-5.6 M191 952.8 h5.6 M1316 952.8 h-5.6 M191 917.4 h5.6 M1316 917.4 h-5.6 M191 882.0 h11.2 M1316 882.0 h-11.2 M191 846.6 h5.6 M1316 846.6 h-5.6 M191 811.2 h5.6 M1316 811.2 h-5.6 M191 775.8 h5.6 M1316 775.8 h-5.6 M191 740.4 h5.6 M1316 740.4 h-5.6 M191 705.0 h11.2 M1316 705.0 h-11.2" stroke="#000" stroke-width="4" fill="none" shape-rendering="crispEdges"/>
<rect x="191" y="696" width="1125" height="372" fill="none" stroke="#000" stroke-width="4"/>
<path clip-path="url(#clip-b)" d="M191.5 1031.5 L192.4 1027.7 L193.3 1016.6 L194.1 998.6 L195.0 975.0 L195.8 947.4 L196.7 917.6 L197.5 887.3 L198.4 858.1 L199.2 831.0 L200.1 806.8 L201.0 785.7 L201.8 767.1 L202.7 750.0 L203.5 732.8 L204.4 713.5 L204.4 713.5 L205.3 742.2 L206.2 774.4 L207.1 809.4 L208.0 846.2 L208.9 883.6 L209.7 920.4 L210.6 955.4 L211.5 987.6 L212.4 1016.3 L216.4 1016.3 L217.3 993.4 L218.1 968.2 L219.0 940.9 L219.8 912.0 L220.7 882.2 L221.5 852.0 L222.4 822.1 L223.2 793.2 L224.1 766.0 L224.9 740.7 L225.8 717.8 L225.8 717.8 L226.6 737.4 L227.5 754.9 L228.3 772.5 L229.1 792.0 L230.0 814.6 L230.8 840.5 L231.7 869.2 L232.5 899.8 L233.3 930.6 L234.2 959.7 L235.0 984.9 L235.9 1004.4 L236.7 1016.6 L237.5 1020.7 L237.5 1020.7 L238.4 1014.4 L239.3 995.9 L240.2 967.5 L241.0 932.7 L241.9 895.4 L242.8 859.5 L243.7 827.4 L244.5 800.4 L245.4 777.7 L246.3 756.8 L247.2 733.6 L247.2 733.6 L248.1 754.8 L248.9 773.7 L249.8 793.7 L250.7 816.9 L251.6 844.3 L252.5 875.5 L253.4 909.0 L254.3 942.4 L255.2 972.6 L256.1 996.8 L257.0 1012.2 L257.9 1017.4 L257.9 1017.4 L258.7 1013.8 L259.5 1002.8 L260.4 985.2 L261.2 962.5 L262.1 936.4 L262.9 908.6 L263.7 881.1 L264.6 855.2 L265.4 831.9 L266.3 811.6 L267.1 794.0 L267.9 778.2 L268.8 762.5 L269.6 744.8 L269.6 744.8 L270.5 764.8 L271.3 782.8 L272.1 801.6 L273.0 823.6 L273.8 849.4 L274.6 878.9 L275.5 910.6 L276.3 942.2 L277.2 970.8 L278.0 993.6 L278.8 1008.2 L279.7 1013.1 L279.7 1013.1 L280.5 1009.4 L281.4 998.1 L282.2 980.2 L283.0 957.0 L283.9 930.2 L284.7 901.9 L285.6 873.8 L286.4 847.3 L287.2 823.5 L288.1 802.7 L288.9 784.8 L289.8 768.6 L290.6 752.5 L291.4 734.4 L291.4 734.4 L292.4 759.5 L293.3 787.5 L294.2 818.0 L295.1 850.1 L296.0 882.7 L297.0 914.8 L297.9 945.3 L298.8 973.3 L299.7 998.4 L303.7 998.4 L304.6 976.4 L305.4 952.0 L306.3 925.6 L307.2 897.6 L308.1 868.9 L308.9 840.2 L309.8 812.2 L310.7 785.8 L311.5 761.4 L312.4 739.4 L312.4 739.4 L313.3 757.8 L314.1 774.3 L315.0 791.2 L315.8 810.3 L316.7 832.7 L317.5 858.4 L318.4 886.6 L319.3 915.8 L320.1 944.0 L321.0 969.0 L321.8 988.6 L322.7 1001.0 L323.5 1005.1 L323.5 1005.1 L324.4 1000.6 L325.2 987.1 L326.1 965.9 L327.0 939.4 L327.8 910.2 L328.7 880.9 L329.5 853.6 L330.4 829.6 L331.2 809.3 L332.1 791.8 L332.9 775.2 L333.8 756.7 L333.8 756.7 L334.6 772.5 L335.5 786.6 L336.3 800.8 L337.2 816.6 L338.0 834.8 L338.8 855.7 L339.7 878.9 L340.5 903.6 L341.4 928.5 L342.2 952.0 L343.0 972.4 L343.9 988.1 L344.7 997.9 L345.6 1001.2 L345.6 1001.2 L346.4 997.5 L347.3 986.3 L348.1 968.6 L349.0 946.0 L349.8 920.5 L350.7 894.1 L351.6 868.6 L352.4 845.4 L353.3 825.1 L354.1 807.8 L355.0 792.5 L355.8 777.7 L356.7 761.0 L356.7 761.0 L357.6 780.1 L358.4 797.3 L359.3 815.9 L360.2 838.1 L361.1 864.5 L361.9 894.0 L362.8 924.6 L363.7 953.2 L364.6 976.6 L365.4 991.8 L366.3 996.9 L366.3 996.9 L367.2 993.6 L368.0 983.8 L368.8 968.0 L369.7 947.6 L370.5 924.2 L371.4 899.3 L372.2 874.6 L373.0 851.4 L373.9 830.5 L374.7 812.3 L375.6 796.5 L376.4 782.3 L377.2 768.2 L378.1 752.4 L378.1 752.4 L378.9 772.0 L379.8 793.8 L380.7 817.4 L381.6 842.3 L382.4 867.9 L383.3 893.6 L384.2 918.5 L385.0 942.1 L385.9 963.9 L386.8 983.5 L390.8 983.5 L391.7 962.1 L392.6 938.1 L393.5 912.0 L394.5 884.6 L395.4 856.7 L396.3 829.2 L397.2 803.2 L398.1 779.2 L399.0 757.8 L399.0 757.8 L399.9 772.8 L400.7 786.1 L401.6 799.6 L402.4 814.5 L403.2 831.8 L404.1 851.6 L404.9 873.5 L405.8 896.9 L406.6 920.5 L407.4 942.7 L408.3 962.0 L409.1 976.9 L410.0 986.2 L410.8 989.3 L410.8 989.3 L411.7 985.4 L412.6 973.6 L413.5 955.2 L414.4 932.1 L415.3 906.7 L416.2 881.1 L417.0 857.3 L417.9 836.4 L418.8 818.7 L419.7 803.5 L420.6 789.1 L421.5 772.9 L421.5 772.9 L422.4 789.1 L423.3 803.6 L424.2 819.0 L425.1 836.7 L426.0 857.7 L426.9 881.6 L427.7 907.3 L428.6 932.9 L429.5 956.1 L430.4 974.6 L431.3 986.4 L432.2 990.4 L432.2 990.4 L433.0 987.5 L433.9 978.8 L434.7 964.9 L435.6 946.8 L436.4 926.1 L437.2 904.0 L438.1 882.2 L438.9 861.6 L439.8 843.1 L440.6 827.0 L441.4 813.1 L442.3 800.5 L443.1 788.0 L444.0 774.0 L444.0 774.0 L444.8 790.9 L445.7 806.1 L446.6 822.6 L447.5 842.2 L448.3 865.6 L449.2 891.8 L450.1 918.8 L451.0 944.2 L451.8 964.9 L452.7 978.3 L453.6 982.9 L453.6 982.9 L454.5 979.5 L455.3 969.6 L456.2 953.9 L457.1 933.8 L458.0 911.2 L458.8 887.7 L459.7 865.1 L460.6 844.5 L461.4 826.5 L462.3 811.2 L463.2 797.6 L464.1 784.4 L464.9 769.6 L464.9 769.6 L465.8 785.6 L466.6 803.2 L467.5 822.2 L468.3 842.2 L469.2 863.0 L470.1 884.1 L470.9 904.9 L471.8 924.9 L472.6 943.9 L473.5 961.5 L474.3 977.5 L478.3 977.5 L479.2 958.3 L480.2 937.0 L481.1 913.7 L482.0 889.2 L482.9 864.3 L483.8 839.9 L484.8 816.6 L485.7 795.2 L486.6 776.1 L486.6 776.1 L487.4 790.0 L488.3 802.4 L489.2 815.1 L490.0 829.6 L490.9 846.4 L491.7 865.8 L492.6 887.0 L493.4 909.1 L494.3 930.3 L495.1 949.2 L496.0 963.9 L496.9 973.3 L497.7 976.4 L497.7 976.4 L498.5 972.8 L499.4 962.3 L500.2 945.8 L501.1 925.1 L501.9 902.4 L502.7 879.5 L503.6 858.2 L504.4 839.5 L505.3 823.6 L506.1 810.0 L506.9 797.1 L507.8 782.6 L507.8 782.6 L508.6 796.1 L509.5 808.0 L510.4 820.3 L511.3 834.3 L512.1 850.6 L513.0 869.4 L513.9 889.9 L514.7 911.2 L515.6 931.8 L516.5 950.1 L517.4 964.3 L518.2 973.4 L519.1 976.4 L519.1 976.4 L520.0 973.9 L520.8 966.3 L521.7 954.2 L522.6 938.6 L523.5 920.6 L524.3 901.5 L525.2 882.5 L526.1 864.7 L526.9 848.6 L527.8 834.7 L528.7 822.6 L529.6 811.6 L530.4 800.8 L531.3 788.6 L531.3 788.6 L532.2 806.4 L533.1 822.8 L534.0 842.2 L534.9 866.2 L535.8 894.1 L536.7 922.8 L537.6 947.9 L538.5 965.0 L539.4 971.0 L539.4 971.0 L540.3 968.8 L541.1 962.2 L542.0 951.7 L542.8 937.8 L543.7 921.6 L544.6 904.1 L545.4 886.4 L546.3 869.2 L547.1 853.3 L548.0 839.1 L548.8 826.7 L549.7 815.8 L550.5 805.8 L551.4 795.7 L552.3 784.3 L552.3 784.3 L553.1 801.0 L554.0 819.7 L554.8 840.0 L555.7 861.4 L556.5 883.1 L557.3 904.5 L558.2 924.8 L559.0 943.5 L559.9 960.2 L563.9 960.2 L564.8 945.4 L565.6 929.1 L566.5 911.3 L567.4 892.6 L568.2 873.3 L569.1 854.1 L570.0 835.3 L570.8 817.6 L571.7 801.2 L572.6 786.5 L572.6 786.5 L573.5 798.0 L574.3 808.3 L575.2 818.6 L576.1 830.1 L576.9 843.4 L577.8 858.6 L578.7 875.5 L579.6 893.5 L580.4 911.6 L581.3 928.6 L582.2 943.5 L583.0 954.9 L583.9 962.1 L584.8 964.5 L584.8 964.5 L585.7 960.0 L586.5 947.0 L587.4 927.4 L588.3 904.0 L589.2 880.0 L590.0 858.0 L590.9 839.3 L591.8 824.0 L592.7 810.5 L593.5 795.6 L593.5 795.6 L594.4 807.4 L595.3 818.0 L596.2 828.9 L597.1 841.2 L598.0 855.6 L598.9 872.2 L599.8 890.3 L600.7 909.1 L601.5 927.3 L602.4 943.4 L603.3 956.0 L604.2 964.0 L605.1 966.7 L605.1 966.7 L606.0 964.1 L606.8 956.6 L607.7 944.6 L608.6 929.3 L609.5 912.1 L610.3 894.2 L611.2 877.0 L612.1 861.2 L612.9 847.6 L613.8 835.8 L614.7 825.5 L615.6 815.5 L616.4 804.2 L616.4 804.2 L617.3 815.8 L618.1 826.1 L618.9 837.0 L619.8 849.7 L620.6 864.6 L621.5 881.6 L622.3 899.9 L623.1 918.1 L624.0 934.7 L624.8 947.8 L625.7 956.3 L626.5 959.1 L626.5 959.1 L627.3 957.1 L628.2 950.9 L629.1 941.1 L629.9 928.3 L630.8 913.7 L631.6 898.2 L632.5 882.7 L633.3 868.2 L634.2 855.2 L635.0 843.8 L635.9 833.9 L636.8 825.1 L637.6 816.3 L638.5 806.4 L638.5 806.4 L639.4 821.9 L640.3 839.5 L641.2 858.7 L642.2 878.7 L643.1 898.7 L644.0 917.9 L645.0 935.5 L645.9 951.1 L649.9 951.1 L650.7 939.3 L651.6 926.4 L652.4 912.3 L653.3 897.5 L654.1 882.2 L655.0 866.7 L655.8 851.3 L656.7 836.5 L657.5 822.5 L658.4 809.5 L659.2 797.7 L659.2 797.7 L660.1 807.9 L660.9 816.9 L661.7 826.1 L662.6 836.2 L663.4 847.9 L664.3 861.3 L665.1 876.2 L665.9 892.1 L666.8 908.1 L667.6 923.1 L668.5 936.2 L669.3 946.3 L670.1 952.7 L671.0 954.8 L671.0 954.8 L671.9 951.6 L672.7 942.4 L673.6 928.1 L674.5 910.6 L675.4 891.9 L676.2 873.9 L677.1 857.8 L678.0 844.2 L678.9 832.8 L679.7 822.3 L680.6 810.7 L680.6 810.7 L681.5 820.6 L682.4 829.4 L683.2 838.4 L684.1 848.7 L685.0 860.7 L685.8 874.5 L686.7 889.7 L687.6 905.3 L688.5 920.5 L689.3 933.9 L690.2 944.4 L691.1 951.0 L691.9 953.3 L691.9 953.3 L692.8 951.4 L693.7 945.8 L694.6 936.9 L695.4 925.3 L696.3 912.0 L697.2 897.9 L698.0 883.9 L698.9 870.7 L699.8 858.9 L700.7 848.6 L701.5 839.6 L702.4 831.5 L703.3 823.6 L704.1 814.6 L704.1 814.6 L705.0 826.5 L705.9 837.4 L706.7 849.6 L707.6 864.5 L708.4 882.2 L709.3 901.4 L710.1 920.1 L711.0 935.8 L711.8 946.2 L712.7 949.8 L712.7 949.8 L713.6 947.9 L714.4 942.2 L715.3 933.0 L716.2 921.1 L717.1 907.5 L717.9 893.0 L718.8 878.6 L719.7 865.1 L720.5 852.9 L721.4 842.3 L722.3 833.1 L723.2 824.9 L724.0 816.7 L724.9 807.4 L724.9 807.4 L725.7 822.1 L726.6 838.6 L727.4 856.6 L728.3 875.4 L729.1 894.2 L730.0 912.2 L730.8 928.7 L731.7 943.3 L735.7 943.3 L736.5 933.9 L737.4 923.6 L738.2 912.6 L739.1 900.8 L739.9 888.7 L740.8 876.2 L741.6 863.8 L742.5 851.6 L743.3 839.9 L744.2 828.9 L745.0 818.6 L745.9 809.2 L745.9 809.2 L746.7 818.5 L747.6 826.8 L748.4 835.3 L749.2 845.0 L750.1 856.3 L750.9 869.3 L751.8 883.5 L752.6 898.3 L753.5 912.6 L754.3 925.2 L755.2 935.1 L756.0 941.3 L756.9 943.4 L756.9 943.4 L757.8 941.1 L758.7 934.1 L759.5 923.3 L760.4 909.7 L761.3 894.7 L762.2 879.7 L763.1 865.6 L764.0 853.3 L764.9 842.9 L765.8 833.9 L766.7 825.4 L767.6 815.9 L767.6 815.9 L768.4 825.4 L769.3 833.9 L770.2 842.9 L771.1 853.3 L772.0 865.6 L772.9 879.7 L773.8 894.7 L774.7 909.7 L775.6 923.3 L776.5 934.1 L777.3 941.1 L778.2 943.4 L778.2 943.4 L779.1 941.8 L780.0 936.9 L780.8 929.1 L781.7 919.0 L782.6 907.4 L783.5 895.1 L784.3 882.9 L785.2 871.3 L786.1 861.0 L786.9 852.0 L787.8 844.2 L788.7 837.1 L789.5 830.1 L790.4 822.3 L790.4 822.3 L791.3 833.0 L792.2 842.7 L793.0 853.7 L793.9 867.1 L794.8 882.9 L795.7 900.0 L796.5 916.8 L797.4 930.9 L798.3 940.2 L799.2 943.4 L799.2 943.4 L800.0 942.0 L800.8 937.5 L801.7 930.4 L802.5 921.1 L803.4 910.3 L804.2 898.5 L805.0 886.6 L805.9 875.0 L806.7 864.4 L807.6 854.8 L808.4 846.5 L809.2 839.2 L810.1 832.4 L810.9 825.7 L811.8 818.0 L811.8 818.0 L812.6 829.2 L813.5 841.7 L814.4 855.4 L815.2 869.7 L816.1 884.3 L817.0 898.6 L817.8 912.2 L818.7 924.7 L819.6 935.9 L823.6 935.9 L824.4 928.1 L825.3 919.4 L826.1 910.1 L827.0 900.3 L827.8 890.1 L828.7 879.7 L829.5 869.2 L830.4 859.0 L831.2 849.2 L832.1 839.9 L832.9 831.3 L833.8 823.4 L833.8 823.4 L834.6 832.4 L835.4 840.5 L836.3 849.3 L837.1 859.8 L837.9 872.3 L838.8 886.2 L839.6 900.7 L840.4 914.2 L841.3 925.3 L842.1 932.4 L842.9 934.9 L842.9 934.9 L843.8 932.8 L844.7 926.5 L845.6 916.7 L846.4 904.4 L847.3 890.9 L848.2 877.3 L849.0 864.6 L849.9 853.5 L850.8 844.1 L851.7 836.0 L852.5 828.3 L853.4 819.7 L853.4 819.7 L854.2 827.6 L855.1 834.5 L855.9 841.6 L856.8 849.4 L857.6 858.4 L858.4 868.7 L859.3 880.2 L860.1 892.4 L860.9 904.7 L861.8 916.3 L862.6 926.4 L863.5 934.1 L864.3 939.0 L865.1 940.6 L865.1 940.6 L866.0 938.9 L866.9 933.6 L867.8 925.3 L868.6 914.7 L869.5 902.7 L870.4 890.2 L871.2 878.2 L872.1 867.3 L873.0 857.8 L873.8 849.6 L874.7 842.5 L875.6 835.5 L876.5 827.6 L876.5 827.6 L877.3 836.7 L878.2 844.9 L879.1 853.8 L880.0 864.4 L880.8 877.0 L881.7 891.1 L882.6 905.7 L883.4 919.4 L884.3 930.5 L885.2 937.8 L886.1 940.2 L886.1 940.2 L886.9 938.6 L887.7 933.9 L888.6 926.3 L889.4 916.5 L890.3 905.2 L891.1 893.2 L891.9 881.3 L892.8 870.1 L893.6 860.0 L894.5 851.2 L895.3 843.6 L896.1 836.7 L897.0 829.9 L897.8 822.3 L897.8 822.3 L898.7 832.5 L899.5 843.9 L900.4 856.3 L901.2 869.3 L902.0 882.5 L902.9 895.6 L903.7 908.0 L904.6 919.4 L905.4 929.5 L909.4 929.5 L910.3 921.8 L911.2 913.3 L912.1 904.1 L913.0 894.3 L913.9 884.2 L914.7 874.0 L915.6 863.9 L916.5 854.2 L917.4 845.0 L918.3 836.4 L919.2 828.7 L919.2 828.7 L920.0 834.9 L920.9 840.4 L921.8 845.9 L922.6 852.1 L923.5 859.2 L924.4 867.4 L925.3 876.4 L926.1 886.1 L927.0 895.8 L927.9 905.0 L928.7 912.9 L929.6 919.1 L930.5 922.9 L931.3 924.2 L931.3 924.2 L932.2 922.2 L933.0 916.2 L933.9 907.2 L934.7 896.5 L935.6 885.5 L936.4 875.4 L937.2 866.9 L938.1 859.9 L938.9 853.7 L939.8 846.9 L939.8 846.9 L940.6 851.0 L941.5 854.7 L942.3 858.4 L943.2 862.5 L944.0 867.2 L944.9 872.7 L945.7 878.8 L946.6 885.2 L947.4 891.7 L948.3 897.8 L949.1 903.1 L950.0 907.2 L950.8 909.8 L951.7 910.7 L951.7 910.7 L952.6 909.7 L953.5 906.7 L954.4 902.2 L955.3 896.7 L956.2 890.8 L957.1 885.1 L958.0 880.0 L958.9 875.7 L959.8 872.1 L960.7 868.8 L961.6 865.1 L961.6 865.1 L962.5 867.3 L963.4 869.2 L964.3 871.3 L965.2 873.6 L966.1 876.4 L966.9 879.6 L967.8 883.0 L968.7 886.4 L969.6 889.5 L970.5 892.0 L971.4 893.6 L972.2 894.1 L972.2 894.1 L973.1 893.3 L974.0 891.1 L974.9 887.9 L975.8 884.2 L976.7 880.7 L977.5 877.6 L978.4 875.1 L979.3 873.0 L980.2 870.7 L980.2 870.7 L981.1 874.7 L982.0 879.4 L982.8 884.4 L983.7 889.4 L984.6 894.0 L985.5 898.1 L989.5 898.1 L990.4 893.4 L991.4 888.1 L992.3 882.4 L993.3 876.5 L994.2 870.7 L995.2 865.4 L996.1 860.8 L996.1 860.8 L997.0 864.2 L997.8 867.2 L998.7 870.3 L999.5 873.6 L1000.4 877.6 L1001.2 882.0 L1002.1 887.0 L1002.9 892.3 L1003.8 897.7 L1004.6 902.7 L1005.5 907.1 L1006.3 910.5 L1007.2 912.6 L1008.0 913.3 L1008.0 913.3 L1008.9 911.6 L1009.7 906.6 L1010.5 899.0 L1011.4 890.0 L1012.2 880.7 L1013.0 872.2 L1013.9 865.1 L1014.7 859.2 L1015.5 853.9 L1016.4 848.2 L1016.4 848.2 L1017.3 853.5 L1018.2 858.3 L1019.0 863.2 L1019.9 868.7 L1020.8 875.2 L1021.7 882.7 L1022.6 890.9 L1023.5 899.3 L1024.4 907.5 L1025.3 914.8 L1026.1 920.5 L1027.0 924.0 L1027.9 925.2 L1027.9 925.2 L1028.8 923.9 L1029.6 920.0 L1030.5 913.7 L1031.3 905.7 L1032.1 896.7 L1033.0 887.3 L1033.8 878.3 L1034.7 870.1 L1035.5 862.9 L1036.4 856.8 L1037.2 851.4 L1038.1 846.1 L1038.9 840.2 L1038.9 840.2 L1039.8 846.9 L1040.6 852.9 L1041.5 859.2 L1042.3 866.5 L1043.2 875.2 L1044.0 885.1 L1044.9 895.6 L1045.7 906.2 L1046.6 915.7 L1047.4 923.4 L1048.3 928.2 L1049.1 929.9 L1049.1 929.9 L1050.0 928.6 L1050.8 924.8 L1051.7 918.7 L1052.5 910.9 L1053.4 901.8 L1054.2 892.3 L1055.1 882.7 L1055.9 873.8 L1056.8 865.7 L1057.6 858.7 L1058.5 852.6 L1059.4 847.1 L1060.2 841.7 L1061.1 835.6 L1061.1 835.6 L1061.9 843.7 L1062.8 851.1 L1063.6 859.5 L1064.5 869.7 L1065.4 881.7 L1066.2 894.8 L1067.1 907.6 L1067.9 918.3 L1068.8 925.5 L1069.7 927.9 L1069.7 927.9 L1070.5 926.4 L1071.4 922.1 L1072.3 915.3 L1073.2 906.6 L1074.0 896.7 L1074.9 886.5 L1075.8 876.7 L1076.7 867.7 L1077.5 859.9 L1078.4 853.2 L1079.3 847.3 L1080.2 841.5 L1081.0 835.1 L1081.0 835.1 L1081.9 842.7 L1082.8 849.6 L1083.6 857.4 L1084.5 866.8 L1085.3 878.0 L1086.2 890.2 L1087.0 902.1 L1087.9 912.1 L1088.7 918.7 L1089.6 921.0 L1089.6 921.0 L1090.5 919.9 L1091.3 916.5 L1092.2 911.1 L1093.1 904.1 L1093.9 896.1 L1094.8 887.6 L1095.7 879.1 L1096.5 871.2 L1097.4 864.0 L1098.3 857.8 L1099.2 852.4 L1100.0 847.5 L1100.9 842.7 L1101.8 837.2 L1101.8 837.2 L1102.6 843.1 L1103.5 848.3 L1104.3 853.8 L1105.2 860.3 L1106.0 867.8 L1106.9 876.4 L1107.7 885.7 L1108.6 894.9 L1109.4 903.3 L1110.3 910.0 L1111.2 914.2 L1112.0 915.7 L1112.0 915.7 L1112.9 914.3 L1113.8 910.4 L1114.7 904.2 L1115.6 896.5 L1116.5 888.0 L1117.3 879.4 L1118.2 871.5 L1119.1 864.5 L1120.0 858.6 L1120.9 853.5 L1121.8 848.6 L1122.7 843.2 L1122.7 843.2 L1123.6 848.2 L1124.5 852.6 L1125.3 857.1 L1126.2 862.0 L1127.1 867.7 L1128.0 874.3 L1128.9 881.6 L1129.8 889.3 L1130.6 897.1 L1131.5 904.5 L1132.4 910.9 L1133.3 915.8 L1134.2 918.9 L1135.1 919.9 L1135.1 919.9 L1135.9 919.0 L1136.8 916.1 L1137.7 911.4 L1138.5 905.4 L1139.4 898.5 L1140.3 891.2 L1141.2 883.9 L1142.0 877.1 L1142.9 870.9 L1143.8 865.6 L1144.6 860.9 L1145.5 856.7 L1146.4 852.6 L1147.2 847.9 L1147.2 847.9 L1148.1 854.2 L1149.0 859.9 L1149.8 866.3 L1150.7 874.1 L1151.5 883.4 L1152.4 893.5 L1153.2 903.3 L1154.1 911.5 L1154.9 917.0 L1155.8 918.9 L1155.8 918.9 L1156.7 917.8 L1157.5 914.8 L1158.4 910.0 L1159.3 903.7 L1160.1 896.5 L1161.0 888.8 L1161.9 881.3 L1162.7 874.1 L1163.6 867.7 L1164.5 862.1 L1165.3 857.2 L1166.2 852.9 L1167.1 848.5 L1168.0 843.6 L1168.0 843.6 L1168.8 848.8 L1169.7 853.4 L1170.5 858.3 L1171.4 864.0 L1172.2 870.7 L1173.1 878.3 L1173.9 886.4 L1174.8 894.6 L1175.6 902.0 L1176.5 907.8 L1177.4 911.6 L1178.2 912.9 L1178.2 912.9 L1179.1 911.7 L1180.0 908.3 L1180.9 903.0 L1181.8 896.3 L1182.7 888.9 L1183.5 881.5 L1184.4 874.6 L1185.3 868.5 L1186.2 863.4 L1187.1 858.9 L1188.0 854.7 L1188.9 850.1 L1188.9 850.1 L1189.8 854.6 L1190.7 858.7 L1191.6 863.0 L1192.4 868.1 L1193.3 874.0 L1194.2 880.7 L1195.1 888.0 L1196.0 895.2 L1196.9 901.7 L1197.8 906.9 L1198.7 910.3 L1199.6 911.4 L1199.6 911.4 L1200.4 910.6 L1201.2 908.4 L1202.1 904.8 L1202.9 900.1 L1203.8 894.7 L1204.6 889.0 L1205.4 883.4 L1206.3 878.1 L1207.1 873.3 L1207.9 869.1 L1208.8 865.5 L1209.6 862.2 L1210.5 859.0 L1211.3 855.4 L1211.3 855.4 L1212.2 860.3 L1213.1 864.7 L1213.9 869.4 L1214.8 875.1 L1215.7 881.8 L1216.5 889.4 L1217.4 897.2 L1218.3 904.5 L1219.2 910.5 L1220.0 914.3 L1220.9 915.7 L1220.9 915.7 L1221.8 914.5 L1222.7 911.0 L1223.6 905.6 L1224.5 898.9 L1225.4 891.4 L1226.3 883.9 L1227.1 876.9 L1228.0 870.8 L1228.9 865.6 L1229.8 861.2 L1230.7 856.9 L1231.6 852.2 L1231.6 852.2 L1232.5 856.9 L1233.4 861.0 L1234.3 865.4 L1235.1 870.5 L1236.0 876.5 L1236.9 883.4 L1237.8 890.8 L1238.7 898.1 L1239.6 904.7 L1240.5 910.1 L1241.4 913.4 L1242.3 914.6 L1242.3 914.6 L1243.1 913.8 L1243.9 911.4 L1244.8 907.6 L1245.6 902.7 L1246.5 897.0 L1247.3 891.0 L1248.1 885.0 L1249.0 879.4 L1249.8 874.3 L1250.7 869.9 L1251.5 866.1 L1252.3 862.6 L1253.2 859.2 L1254.0 855.4 L1254.0 855.4 L1254.9 859.7 L1255.8 863.7 L1256.6 867.9 L1257.5 873.0 L1258.4 879.0 L1259.3 885.8 L1260.1 892.7 L1261.0 899.3 L1261.9 904.6 L1262.7 908.1 L1263.6 909.2 L1263.6 909.2 L1264.5 908.5 L1265.3 906.4 L1266.1 903.0 L1267.0 898.6 L1267.8 893.6 L1268.7 888.2 L1269.5 882.9 L1270.3 877.8 L1271.2 873.3 L1272.0 869.4 L1272.8 866.0 L1273.7 862.9 L1274.5 859.9 L1275.4 856.5 L1275.4 856.5 L1276.3 860.4 L1277.1 863.9 L1278.0 867.6 L1278.9 872.0 L1279.8 877.0 L1280.7 882.9 L1281.6 889.1 L1282.5 895.3 L1283.4 900.9 L1284.3 905.4 L1285.2 908.3 L1286.0 909.2 L1286.0 909.2 L1286.9 907.9 L1287.8 904.1 L1288.7 898.1 L1289.5 890.8 L1290.4 883.0 L1291.3 875.4 L1292.2 868.7 L1293.0 863.0 L1293.9 858.2 L1294.8 853.9 L1295.7 849.0 L1295.7 849.0 L1296.5 852.8 L1297.4 856.2 L1298.2 859.5 L1299.1 863.2 L1299.9 867.3 L1300.8 872.0 L1301.6 877.4 L1302.5 883.1 L1303.3 889.0 L1304.2 894.9 L1305.0 900.3 L1305.9 904.9 L1306.8 908.5 L1307.6 910.7 L1308.5 911.4 L1308.5 911.4 L1309.4 909.1 L1310.3 902.6 L1311.3 893.4 L1312.2 883.5 L1313.1 874.6 L1314.1 867.4 L1315.0 861.7 L1315.9 855.6" fill="none" stroke="#0000ff" stroke-width="4" stroke-linejoin="round" shape-rendering="crispEdges"/>
<path clip-path="url(#clip-b)" d="M192.0 722.1 L195.8 722.9 L199.6 723.6 L203.4 724.4 L207.2 725.2 L211.0 725.9 L214.7 726.7 L218.5 727.4 L222.3 728.2 L226.1 729.0 L224.2 738.7 L220.4 737.9 L216.6 737.2 L212.8 736.4 L209.0 735.6 L205.2 734.9 L201.4 734.1 L197.6 733.3 L193.8 732.6 L190.0 731.8Z M255.5 734.8 L259.2 735.6 L262.9 736.3 L266.6 737.0 L270.3 737.8 L274.0 738.5 L277.7 739.2 L281.4 739.9 L285.1 740.7 L288.8 741.4 L292.5 742.1 L296.2 742.8 L299.9 743.5 L298.0 753.3 L294.3 752.6 L290.6 751.8 L286.9 751.1 L283.2 750.4 L279.5 749.7 L275.8 749.0 L272.1 748.2 L268.4 747.5 L264.7 746.8 L261.0 746.0 L257.3 745.3 L253.6 744.6Z M328.2 748.8 L332.0 749.5 L335.8 750.2 L339.6 750.9 L343.4 751.5 L347.3 752.2 L351.1 752.8 L354.9 753.5 L358.7 754.2 L362.6 754.8 L366.4 755.5 L364.7 765.3 L360.9 764.6 L357.0 764.0 L353.2 763.3 L349.4 762.7 L345.6 762.0 L341.7 761.3 L337.9 760.7 L334.1 760.0 L330.2 759.3 L326.4 758.6Z M393.2 760.1 L397.0 760.8 L400.8 761.4 L404.6 762.0 L408.4 762.7 L412.2 763.3 L416.0 763.9 L419.8 764.5 L423.6 765.2 L427.4 765.8 L431.2 766.4 L429.6 776.3 L425.8 775.6 L422.0 775.0 L418.2 774.4 L414.4 773.8 L410.6 773.2 L406.8 772.5 L403.0 771.9 L399.1 771.2 L395.3 770.6 L391.5 770.0Z M460.8 770.9 L464.6 771.4 L468.4 771.8 L472.2 772.3 L476.1 772.7 L479.9 773.1 L483.7 773.5 L487.6 773.9 L491.4 774.4 L495.3 774.8 L499.2 775.4 L503.1 775.9 L506.9 776.5 L510.8 777.1 L509.3 787.0 L505.4 786.4 L501.6 785.8 L497.8 785.3 L494.1 784.8 L490.3 784.4 L486.5 783.9 L482.6 783.5 L478.8 783.1 L475.0 782.7 L471.1 782.3 L467.3 781.8 L463.4 781.4 L459.5 780.9Z M541.3 781.8 L545.3 782.4 L549.2 782.9 L553.2 783.5 L557.2 784.0 L561.2 784.6 L565.2 785.1 L569.2 785.6 L573.2 786.2 L577.2 786.7 L575.9 796.7 L571.9 796.1 L567.9 795.6 L563.9 795.1 L559.9 794.5 L555.9 794.0 L551.9 793.4 L547.9 792.9 L543.9 792.3 L539.8 791.7Z M608.1 790.7 L612.0 791.1 L615.8 791.6 L619.7 792.1 L623.6 792.6 L627.4 793.0 L631.3 793.5 L635.2 794.0 L639.0 794.5 L642.9 794.9 L641.7 804.9 L637.8 804.5 L633.9 804.0 L630.1 803.5 L626.2 803.0 L622.3 802.6 L618.5 802.1 L614.6 801.6 L610.7 801.1 L606.9 800.6Z M674.8 798.8 L678.6 799.2 L682.4 799.6 L686.2 800.0 L690.0 800.4 L693.7 800.8 L697.5 801.2 L701.3 801.6 L705.1 802.0 L708.9 802.4 L712.7 802.9 L716.5 803.3 L720.3 803.7 L719.2 813.7 L715.4 813.3 L711.6 812.9 L707.8 812.5 L704.1 812.1 L700.3 811.7 L696.5 811.3 L692.7 810.9 L688.9 810.5 L685.1 810.1 L681.3 809.7 L677.5 809.2 L673.7 808.8Z M752.4 807.6 L756.4 808.0 L760.3 808.3 L764.3 808.7 L768.3 809.0 L772.3 809.4 L776.3 809.7 L780.3 810.0 L784.3 810.4 L788.3 810.7 L787.3 820.8 L783.4 820.5 L779.4 820.1 L775.4 819.8 L771.4 819.5 L767.4 819.1 L763.4 818.8 L759.4 818.4 L755.4 818.0 L751.4 817.6Z M820.8 814.0 L824.5 814.5 L828.2 815.1 L831.9 815.7 L835.5 816.3 L839.2 816.9 L842.8 817.6 L846.5 818.3 L850.1 819.0 L853.7 819.8 L857.3 820.5 L855.4 830.2 L851.8 829.5 L848.2 828.8 L844.6 828.1 L841.0 827.4 L837.4 826.7 L833.8 826.1 L830.2 825.5 L826.7 825.0 L823.1 824.4 L819.6 824.0Z M884.2 826.7 L888.2 827.9 L892.1 829.3 L896.1 830.8 L900.0 832.4 L903.9 834.1 L907.7 835.8 L911.6 837.6 L915.5 839.5 L919.3 841.4 L923.2 843.3 L927.0 845.2 L930.8 847.2 L926.5 855.6 L922.7 853.6 L918.9 851.7 L915.1 849.8 L911.3 848.0 L907.6 846.2 L903.8 844.5 L900.1 842.8 L896.3 841.2 L892.6 839.8 L888.9 838.4 L885.2 837.2 L881.5 836.1Z M954.0 860.8 L957.8 863.0 L961.6 865.1 L965.5 867.3 L969.3 869.5 L973.1 871.6 L976.9 873.8 L980.8 876.0 L984.6 878.2 L988.5 880.5 L983.7 888.4 L980.0 886.2 L976.2 884.1 L972.3 881.9 L968.5 879.8 L964.7 877.6 L960.9 875.4 L957.0 873.2 L953.2 871.0 L949.3 868.8Z M1011.6 893.4 L1015.3 894.8 L1019.0 896.1 L1022.6 897.3 L1026.3 898.5 L1030.0 899.6 L1033.7 900.7 L1037.4 901.7 L1041.1 902.7 L1044.8 903.7 L1042.4 913.2 L1038.6 912.2 L1034.8 911.2 L1031.0 910.1 L1027.2 909.0 L1023.4 907.8 L1019.6 906.5 L1015.7 905.2 L1011.9 903.8 L1008.0 902.2Z M1075.1 910.2 L1079.0 910.6 L1082.9 910.9 L1086.8 911.2 L1090.7 911.5 L1094.6 911.7 L1098.5 911.9 L1102.4 912.1 L1106.3 912.3 L1110.2 912.4 L1114.2 912.5 L1118.1 912.6 L1122.0 912.7 L1126.0 912.8 L1129.9 912.9 L1133.8 912.9 L1137.7 913.0 L1141.6 913.0 L1141.6 923.3 L1137.6 923.2 L1133.7 923.2 L1129.7 923.1 L1125.7 923.1 L1121.8 923.0 L1117.8 922.8 L1113.9 922.7 L1109.9 922.6 L1106.0 922.5 L1102.0 922.3 L1098.0 922.1 L1094.0 921.9 L1090.0 921.7 L1086.0 921.4 L1082.1 921.0 L1078.1 920.7 L1074.1 920.3Z M1176.2 912.9 L1180.0 912.8 L1183.9 912.8 L1187.8 912.7 L1191.7 912.7 L1195.6 912.6 L1199.5 912.5 L1203.4 912.5 L1207.3 912.4 L1211.2 912.3 L1211.4 922.5 L1207.5 922.6 L1203.6 922.7 L1199.7 922.8 L1195.8 922.9 L1191.9 923.0 L1188.0 923.0 L1184.0 923.1 L1180.1 923.1 L1176.2 923.1Z M1244.3 911.0 L1247.9 910.9 L1251.6 910.8 L1255.2 910.7 L1258.8 910.6 L1262.4 910.5 L1266.0 910.3 L1269.6 910.2 L1273.2 910.1 L1276.8 910.0 L1280.4 909.8 L1280.9 920.0 L1277.2 920.2 L1273.6 920.3 L1270.0 920.5 L1266.3 920.6 L1262.7 920.7 L1259.1 920.8 L1255.5 920.9 L1251.9 921.0 L1248.3 921.1 L1244.7 921.2Z M1314.8 907.6 L1315.6 907.5 L1316.4 917.6 L1315.6 917.7Z M190.0 1032.2 L193.8 1031.4 L197.6 1030.7 L201.4 1029.9 L205.2 1029.1 L209.0 1028.4 L212.8 1027.6 L216.6 1026.8 L220.4 1026.1 L224.2 1025.3 L226.1 1035.0 L222.3 1035.8 L218.5 1036.6 L214.7 1037.3 L211.0 1038.1 L207.2 1038.8 L203.4 1039.6 L199.6 1040.4 L195.8 1041.1 L192.0 1041.9Z M253.6 1019.4 L257.3 1018.7 L261.0 1018.0 L264.7 1017.2 L268.4 1016.5 L272.1 1015.8 L275.8 1015.0 L279.5 1014.3 L283.2 1013.6 L286.9 1012.9 L290.6 1012.2 L294.3 1011.4 L298.0 1010.7 L299.9 1020.5 L296.2 1021.2 L292.5 1021.9 L288.8 1022.6 L285.1 1023.3 L281.4 1024.1 L277.7 1024.8 L274.0 1025.5 L270.3 1026.2 L266.6 1027.0 L262.9 1027.7 L259.2 1028.4 L255.5 1029.2Z M326.4 1005.4 L330.2 1004.7 L334.1 1004.0 L337.9 1003.3 L341.7 1002.7 L345.6 1002.0 L349.4 1001.3 L353.2 1000.7 L357.0 1000.0 L360.9 999.4 L364.7 998.7 L366.4 1008.5 L362.6 1009.2 L358.7 1009.8 L354.9 1010.5 L351.1 1011.2 L347.3 1011.8 L343.4 1012.5 L339.6 1013.1 L335.8 1013.8 L332.0 1014.5 L328.2 1015.2Z M391.5 994.0 L395.3 993.4 L399.1 992.8 L403.0 992.1 L406.8 991.5 L410.6 990.8 L414.4 990.2 L418.2 989.6 L422.0 989.0 L425.8 988.4 L429.6 987.7 L431.2 997.6 L427.4 998.2 L423.6 998.8 L419.8 999.5 L416.0 1000.1 L412.2 1000.7 L408.4 1001.3 L404.6 1002.0 L400.8 1002.6 L397.0 1003.2 L393.2 1003.9Z M459.5 983.1 L463.4 982.6 L467.3 982.2 L471.1 981.7 L475.0 981.3 L478.8 980.9 L482.6 980.5 L486.5 980.1 L490.3 979.6 L494.1 979.2 L497.8 978.7 L501.6 978.2 L505.4 977.6 L509.3 977.0 L510.8 986.9 L506.9 987.5 L503.1 988.1 L499.2 988.6 L495.3 989.2 L491.4 989.6 L487.6 990.1 L483.7 990.5 L479.9 990.9 L476.1 991.3 L472.2 991.7 L468.4 992.2 L464.6 992.6 L460.8 993.1Z M539.8 972.3 L543.9 971.7 L547.9 971.1 L551.9 970.6 L555.9 970.0 L559.9 969.5 L563.9 968.9 L567.9 968.4 L571.9 967.9 L575.9 967.3 L577.2 977.3 L573.2 977.8 L569.2 978.4 L565.2 978.9 L561.2 979.4 L557.2 980.0 L553.2 980.5 L549.2 981.1 L545.3 981.6 L541.3 982.2Z M606.9 963.4 L610.7 962.9 L614.6 962.4 L618.5 961.9 L622.3 961.4 L626.2 961.0 L630.1 960.5 L633.9 960.0 L637.8 959.5 L641.7 959.1 L642.9 969.1 L639.0 969.5 L635.2 970.0 L631.3 970.5 L627.4 971.0 L623.6 971.4 L619.7 971.9 L615.8 972.4 L612.0 972.9 L608.1 973.3Z M673.7 955.2 L677.5 954.8 L681.3 954.3 L685.1 953.9 L688.9 953.5 L692.7 953.1 L696.5 952.7 L700.3 952.3 L704.1 951.9 L707.8 951.5 L711.6 951.1 L715.4 950.7 L719.2 950.3 L720.3 960.3 L716.5 960.7 L712.7 961.1 L708.9 961.6 L705.1 962.0 L701.3 962.4 L697.5 962.8 L693.7 963.2 L690.0 963.6 L686.2 964.0 L682.4 964.4 L678.6 964.8 L674.8 965.2Z M751.4 946.4 L755.4 946.0 L759.4 945.6 L763.4 945.2 L767.4 944.9 L771.4 944.5 L775.4 944.2 L779.4 943.9 L783.4 943.5 L787.3 943.2 L788.3 953.3 L784.3 953.6 L780.3 954.0 L776.3 954.3 L772.3 954.6 L768.3 955.0 L764.3 955.3 L760.3 955.7 L756.4 956.0 L752.4 956.4Z M819.6 940.0 L823.1 939.6 L826.7 939.0 L830.2 938.5 L833.8 937.9 L837.4 937.3 L841.0 936.6 L844.6 935.9 L848.2 935.2 L851.8 934.5 L855.4 933.8 L857.3 943.5 L853.7 944.2 L850.1 945.0 L846.5 945.7 L842.8 946.4 L839.2 947.1 L835.5 947.7 L831.9 948.3 L828.2 948.9 L824.5 949.5 L820.8 950.0Z M881.5 927.9 L885.2 926.8 L888.9 925.6 L892.6 924.2 L896.3 922.8 L900.1 921.2 L903.8 919.5 L907.6 917.8 L911.3 916.0 L915.1 914.2 L918.9 912.3 L922.7 910.4 L926.5 908.4 L930.8 916.8 L927.0 918.8 L923.2 920.7 L919.3 922.6 L915.5 924.5 L911.6 926.4 L907.7 928.2 L903.9 929.9 L900.0 931.6 L896.1 933.2 L892.1 934.7 L888.2 936.1 L884.2 937.3Z M949.3 895.2 L953.2 893.0 L957.0 890.8 L960.9 888.6 L964.7 886.4 L968.5 884.2 L972.3 882.1 L976.2 879.9 L980.0 877.8 L983.7 875.6 L988.5 883.5 L984.6 885.8 L980.8 888.0 L976.9 890.2 L973.1 892.4 L969.3 894.5 L965.5 896.7 L961.6 898.9 L957.8 901.0 L954.0 903.2Z M1008.0 861.8 L1011.9 860.2 L1015.7 858.8 L1019.6 857.5 L1023.4 856.2 L1027.2 855.0 L1031.0 853.9 L1034.8 852.8 L1038.6 851.8 L1042.4 850.8 L1044.8 860.3 L1041.1 861.3 L1037.4 862.3 L1033.7 863.3 L1030.0 864.4 L1026.3 865.5 L1022.6 866.7 L1019.0 867.9 L1015.3 869.2 L1011.6 870.6Z M1074.1 843.7 L1078.1 843.3 L1082.1 843.0 L1086.0 842.6 L1090.0 842.3 L1094.0 842.1 L1098.0 841.9 L1102.0 841.7 L1106.0 841.5 L1109.9 841.4 L1113.9 841.3 L1117.8 841.2 L1121.8 841.0 L1125.7 840.9 L1129.7 840.9 L1133.7 840.8 L1137.6 840.8 L1141.6 840.7 L1141.6 851.0 L1137.7 851.0 L1133.8 851.1 L1129.9 851.1 L1126.0 851.2 L1122.0 851.3 L1118.1 851.4 L1114.2 851.5 L1110.2 851.6 L1106.3 851.7 L1102.4 851.9 L1098.5 852.1 L1094.6 852.3 L1090.7 852.5 L1086.8 852.8 L1082.9 853.1 L1079.0 853.4 L1075.1 853.8Z M1176.2 840.9 L1180.1 840.9 L1184.0 840.9 L1188.0 841.0 L1191.9 841.0 L1195.8 841.1 L1199.7 841.2 L1203.6 841.3 L1207.5 841.4 L1211.4 841.5 L1211.2 851.7 L1207.3 851.6 L1203.4 851.5 L1199.5 851.5 L1195.6 851.4 L1191.7 851.3 L1187.8 851.3 L1183.9 851.2 L1180.0 851.2 L1176.2 851.1Z M1244.7 842.8 L1248.3 842.9 L1251.9 843.0 L1255.5 843.1 L1259.1 843.2 L1262.7 843.3 L1266.3 843.4 L1270.0 843.5 L1273.6 843.7 L1277.2 843.8 L1280.9 844.0 L1280.4 854.2 L1276.8 854.0 L1273.2 853.9 L1269.6 853.8 L1266.0 853.7 L1262.4 853.5 L1258.8 853.4 L1255.2 853.3 L1251.6 853.2 L1247.9 853.1 L1244.3 853.0Z M1315.6 846.3 L1316.4 846.4 L1315.6 856.5 L1314.8 856.4Z" fill="#007f00" stroke="none" shape-rendering="crispEdges"/>
<rect x="472.2" y="695" width="24.6" height="374" fill="#bfdec5"/>
<g font-family="'Liberation Sans', Arial, sans-serif" font-size="60" fill="#000">
<g class="exp"><text transform="translate(191.3,670.0) scale(1,1.03)">x </text><text transform="translate(301.5,670.0) scale(1,1.03)" text-anchor="end">10</text><text transform="translate(301.5,633.8) scale(1,1.03)" font-size="38">7</text></g>
<text transform="translate(174.7,727.3) scale(1,1.03)" text-anchor="end">5</text>
<text transform="translate(174.7,904.3) scale(1,1.03)" text-anchor="end">0</text>
<g class="neg"><text transform="translate(106.7,1086.5) scale(1,1.03)" textLength="36.7" lengthAdjust="spacingAndGlyphs">−</text><text transform="translate(174.7,1081.3) scale(1,1.03)" text-anchor="end">5</text></g>
<text transform="translate(191.0,1139.8) scale(1,1.03)" text-anchor="middle">0</text>
<text transform="translate(592.8,1139.8) scale(1,1.03)" text-anchor="middle">50</text>
<text transform="translate(996.1,1139.8) scale(1,1.03)" text-anchor="middle">100</text>
</g>
</g>
<g id="panel-c">
<clipPath id="clip-c"><rect x="186" y="1260" width="1124" height="383"/></clipPath>
<g stroke="#000" stroke-width="2" fill="none" shape-rendering="crispEdges"><line x1="212" y1="1269.5" x2="1310" y2="1269.5" stroke-dasharray="4 22.366"/><line x1="212" y1="1451.75" x2="1310" y2="1451.75" stroke-dasharray="4 22.366"/><line x1="212" y1="1634" x2="1310" y2="1634" stroke-dasharray="4 22.366"/><line x1="587.4" y1="1644.2" x2="587.4" y2="1260" stroke-dasharray="4 22.4"/><line x1="988.9" y1="1644.2" x2="988.9" y2="1260" stroke-dasharray="4 22.4"/></g>
<path d="M186.0 1260 v11.2 M186.0 1643 v-11.2 M226.1 1260 v5.6 M226.1 1643 v-5.6 M266.3 1260 v5.6 M266.3 1643 v-5.6 M306.4 1260 v5.6 M306.4 1643 v-5.6 M346.6 1260 v5.6 M346.6 1643 v-5.6 M386.7 1260 v5.6 M386.7 1643 v-5.6 M426.9 1260 v5.6 M426.9 1643 v-5.6 M467.0 1260 v5.6 M467.0 1643 v-5.6 M507.1 1260 v5.6 M507.1 1643 v-5.6 M547.3 1260 v5.6 M547.3 1643 v-5.6 M587.4 1260 v11.2 M587.4 1643 v-11.2 M627.6 1260 v5.6 M627.6 1643 v-5.6 M667.7 1260 v5.6 M667.7 1643 v-5.6 M707.9 1260 v5.6 M707.9 1643 v-5.6 M748.0 1260 v5.6 M748.0 1643 v-5.6 M788.1 1260 v5.6 M788.1 1643 v-5.6 M828.3 1260 v5.6 M828.3 1643 v-5.6 M868.4 1260 v5.6 M868.4 1643 v-5.6 M908.6 1260 v5.6 M908.6 1643 v-5.6 M948.7 1260 v5.6 M948.7 1643 v-5.6 M988.9 1260 v11.2 M988.9 1643 v-11.2 M1029.0 1260 v5.6 M1029.0 1643 v-5.6 M1069.1 1260 v5.6 M1069.1 1643 v-5.6 M1109.3 1260 v5.6 M1109.3 1643 v-5.6 M1149.4 1260 v5.6 M1149.4 1643 v-5.6 M1189.6 1260 v5.6 M1189.6 1643 v-5.6 M1229.7 1260 v5.6 M1229.7 1643 v-5.6 M1269.9 1260 v5.6 M1269.9 1643 v-5.6 M1310.0 1260 v5.6 M1310.0 1643 v-5.6 M186 1634.0 h11.2 M1310 1634.0 h-11.2 M186 1597.5 h5.6 M1310 1597.5 h-5.6 M186 1561.1 h5.6 M1310 1561.1 h-5.6 M186 1524.7 h5.6 M1310 1524.7 h-5.6 M186 1488.2 h5.6 M1310 1488.2 h-5.6 M186 1451.8 h11.2 M1310 1451.8 h-11.2 M186 1415.3 h5.6 M1310 1415.3 h-5.6 M186 1378.8 h5.6 M1310 1378.8 h-5.6 M186 1342.4 h5.6 M1310 1342.4 h-5.6 M186 1306.0 h5.6 M1310 1306.0 h-5.6 M186 1269.5 h11.2 M1310 1269.5 h-11.2" stroke="#000" stroke-width="4" fill="none" shape-rendering="crispEdges"/>
<rect x="186" y="1260" width="1124" height="383" fill="none" stroke="#000" stroke-width="4"/>
<path clip-path="url(#clip-c)" d="M186.5 1605.6 L187.4 1601.8 L188.3 1590.3 L189.1 1571.8 L190.0 1547.5 L190.8 1519.1 L191.7 1488.4 L192.5 1457.2 L193.4 1427.1 L194.2 1399.2 L195.1 1374.3 L195.9 1352.6 L196.8 1333.4 L197.7 1315.9 L198.5 1298.2 L199.4 1278.2 L199.4 1278.2 L200.3 1307.8 L201.2 1341.0 L202.0 1377.0 L202.9 1414.9 L203.8 1453.4 L204.7 1491.3 L205.6 1527.3 L206.5 1560.5 L207.4 1590.1 L211.4 1590.1 L212.3 1566.5 L213.1 1540.5 L214.0 1512.4 L214.8 1482.7 L215.7 1451.9 L216.5 1420.8 L217.3 1390.1 L218.2 1360.4 L219.0 1332.3 L219.9 1306.3 L220.7 1282.7 L220.7 1282.7 L221.6 1302.9 L222.4 1320.9 L223.3 1339.0 L224.1 1359.1 L224.9 1382.3 L225.8 1409.0 L226.6 1438.6 L227.5 1470.1 L228.3 1501.8 L229.1 1531.7 L230.0 1557.7 L230.8 1577.8 L231.7 1590.3 L232.5 1594.5 L232.5 1594.5 L233.4 1588.1 L234.2 1569.1 L235.1 1539.8 L236.0 1503.9 L236.9 1465.6 L237.7 1428.6 L238.6 1395.6 L239.5 1367.7 L240.4 1344.3 L241.2 1322.8 L242.1 1298.9 L242.1 1298.9 L243.0 1320.8 L243.9 1340.3 L244.8 1360.8 L245.7 1384.7 L246.6 1412.9 L247.5 1445.0 L248.3 1479.6 L249.2 1513.9 L250.1 1545.1 L251.0 1569.9 L251.9 1585.8 L252.8 1591.2 L252.8 1591.2 L253.6 1587.4 L254.5 1576.1 L255.3 1558.0 L256.2 1534.6 L257.0 1507.7 L257.8 1479.2 L258.7 1450.8 L259.5 1424.2 L260.4 1400.2 L261.2 1379.3 L262.0 1361.2 L262.9 1344.9 L263.7 1328.7 L264.6 1310.5 L264.6 1310.5 L265.4 1331.1 L266.2 1349.6 L267.1 1369.0 L267.9 1391.6 L268.7 1418.2 L269.6 1448.6 L270.4 1481.2 L271.2 1513.7 L272.1 1543.2 L272.9 1566.7 L273.8 1581.7 L274.6 1586.7 L274.6 1586.7 L275.4 1582.9 L276.3 1571.3 L277.1 1552.9 L278.0 1528.9 L278.8 1501.4 L279.6 1472.2 L280.5 1443.3 L281.3 1416.0 L282.2 1391.5 L283.0 1370.1 L283.8 1351.6 L284.7 1334.9 L285.5 1318.4 L286.4 1299.8 L286.4 1299.8 L287.3 1325.6 L288.2 1354.5 L289.1 1385.9 L290.0 1418.9 L290.9 1452.5 L291.9 1485.5 L292.8 1516.9 L293.7 1545.8 L294.6 1571.6 L298.6 1571.6 L299.5 1549.0 L300.3 1523.8 L301.2 1496.6 L302.1 1467.8 L303.0 1438.3 L303.8 1408.7 L304.7 1379.9 L305.6 1352.7 L306.4 1327.6 L307.3 1304.9 L307.3 1304.9 L308.2 1323.9 L309.0 1340.8 L309.9 1358.2 L310.7 1377.9 L311.6 1401.0 L312.4 1427.4 L313.3 1456.5 L314.1 1486.5 L315.0 1515.6 L315.8 1541.4 L316.7 1561.5 L317.6 1574.2 L318.4 1578.5 L318.4 1578.5 L319.3 1573.8 L320.1 1559.9 L321.0 1538.2 L321.8 1510.9 L322.7 1480.8 L323.5 1450.6 L324.4 1422.5 L325.3 1397.8 L326.1 1376.9 L327.0 1358.9 L327.8 1341.8 L328.7 1322.7 L328.7 1322.7 L329.5 1339.0 L330.4 1353.5 L331.2 1368.2 L332.0 1384.4 L332.9 1403.2 L333.7 1424.7 L334.5 1448.6 L335.4 1474.0 L336.2 1499.6 L337.1 1523.8 L337.9 1544.8 L338.7 1561.0 L339.6 1571.1 L340.4 1574.5 L340.4 1574.5 L341.3 1570.7 L342.1 1559.1 L343.0 1540.9 L343.8 1517.6 L344.7 1491.4 L345.6 1464.2 L346.4 1437.9 L347.3 1414.0 L348.1 1393.2 L349.0 1375.3 L349.8 1359.6 L350.7 1344.3 L351.5 1327.2 L351.5 1327.2 L352.4 1346.8 L353.3 1364.5 L354.2 1383.7 L355.0 1406.6 L355.9 1433.7 L356.8 1464.1 L357.7 1495.6 L358.5 1525.1 L359.4 1549.1 L360.3 1564.8 L361.2 1570.1 L361.2 1570.1 L362.0 1566.7 L362.8 1556.5 L363.7 1540.3 L364.5 1519.3 L365.4 1495.2 L366.2 1469.6 L367.0 1444.2 L367.9 1420.2 L368.7 1398.7 L369.6 1380.0 L370.4 1363.7 L371.2 1349.1 L372.1 1334.6 L372.9 1318.3 L372.9 1318.3 L373.8 1338.5 L374.7 1360.9 L375.5 1385.2 L376.4 1410.9 L377.3 1437.3 L378.1 1463.7 L379.0 1489.3 L379.9 1513.6 L380.7 1536.1 L381.6 1556.3 L385.6 1556.3 L386.5 1534.2 L387.4 1509.5 L388.4 1482.7 L389.3 1454.4 L390.2 1425.7 L391.1 1397.4 L392.0 1370.6 L392.9 1345.9 L393.9 1323.8 L393.9 1323.8 L394.7 1339.3 L395.5 1353.0 L396.4 1366.9 L397.2 1382.3 L398.1 1400.0 L398.9 1420.4 L399.7 1443.0 L400.6 1467.1 L401.4 1491.4 L402.3 1514.2 L403.1 1534.1 L403.9 1549.5 L404.8 1559.1 L405.6 1562.3 L405.6 1562.3 L406.5 1558.2 L407.4 1546.1 L408.3 1527.1 L409.2 1503.3 L410.1 1477.1 L411.0 1450.8 L411.8 1426.3 L412.7 1404.8 L413.6 1386.6 L414.5 1370.9 L415.4 1356.0 L416.3 1339.4 L416.3 1339.4 L417.2 1356.1 L418.1 1371.1 L419.0 1386.8 L419.9 1405.1 L420.8 1426.8 L421.6 1451.4 L422.5 1477.8 L423.4 1504.2 L424.3 1528.1 L425.2 1547.1 L426.1 1559.3 L427.0 1563.4 L427.0 1563.4 L427.8 1560.4 L428.7 1551.4 L429.5 1537.1 L430.3 1518.5 L431.2 1497.1 L432.0 1474.5 L432.9 1451.9 L433.7 1430.8 L434.5 1411.7 L435.4 1395.1 L436.2 1380.8 L437.1 1367.8 L437.9 1355.0 L438.7 1340.5 L438.7 1340.5 L439.6 1357.9 L440.5 1373.6 L441.4 1390.6 L442.2 1410.8 L443.1 1434.8 L444.0 1461.8 L444.9 1489.7 L445.7 1515.8 L446.6 1537.1 L447.5 1550.9 L448.4 1555.6 L448.4 1555.6 L449.2 1552.2 L450.1 1542.0 L451.0 1525.8 L451.8 1505.1 L452.7 1481.8 L453.6 1457.7 L454.5 1434.4 L455.3 1413.2 L456.2 1394.7 L457.1 1378.8 L457.9 1364.9 L458.8 1351.3 L459.7 1336.1 L459.7 1336.1 L460.5 1352.5 L461.4 1370.6 L462.2 1390.1 L463.1 1410.8 L464.0 1432.2 L464.8 1453.9 L465.7 1475.3 L466.5 1496.0 L467.4 1515.5 L468.2 1533.6 L469.1 1550.0 L473.1 1550.0 L474.0 1530.4 L474.9 1508.3 L475.8 1484.4 L476.7 1459.2 L477.7 1433.6 L478.6 1408.4 L479.5 1384.4 L480.4 1362.4 L481.3 1342.7 L481.3 1342.7 L482.2 1357.0 L483.0 1369.8 L483.9 1382.9 L484.7 1397.8 L485.6 1415.1 L486.5 1435.1 L487.3 1456.9 L488.2 1479.6 L489.0 1501.5 L489.9 1520.9 L490.7 1536.1 L491.6 1545.7 L492.4 1548.9 L492.4 1548.9 L493.3 1545.3 L494.1 1534.4 L495.0 1517.5 L495.8 1496.2 L496.6 1472.7 L497.5 1449.2 L498.3 1427.2 L499.1 1408.0 L500.0 1391.7 L500.8 1377.6 L501.6 1364.3 L502.5 1349.4 L502.5 1349.4 L503.4 1363.3 L504.2 1375.6 L505.1 1388.3 L506.0 1402.7 L506.8 1419.5 L507.7 1438.8 L508.6 1459.9 L509.5 1481.9 L510.3 1503.1 L511.2 1521.8 L512.1 1536.5 L512.9 1545.8 L513.8 1548.9 L513.8 1548.9 L514.7 1546.3 L515.6 1538.6 L516.4 1526.1 L517.3 1510.0 L518.2 1491.5 L519.0 1471.8 L519.9 1452.3 L520.8 1433.9 L521.6 1417.4 L522.5 1403.0 L523.4 1390.5 L524.3 1379.3 L525.1 1368.2 L526.0 1355.6 L526.0 1355.6 L526.9 1373.9 L527.8 1390.8 L528.7 1410.7 L529.6 1435.5 L530.5 1464.2 L531.4 1493.7 L532.3 1519.6 L533.2 1537.3 L534.1 1543.4 L534.1 1543.4 L535.0 1541.1 L535.8 1534.4 L536.7 1523.5 L537.5 1509.2 L538.4 1492.6 L539.2 1474.5 L540.1 1456.2 L541.0 1438.6 L541.8 1422.2 L542.7 1407.6 L543.5 1394.8 L544.4 1383.6 L545.2 1373.3 L546.1 1362.9 L546.9 1351.2 L546.9 1351.2 L547.8 1368.4 L548.6 1387.6 L549.5 1408.5 L550.3 1430.5 L551.2 1452.9 L552.0 1474.9 L552.9 1495.8 L553.7 1515.1 L554.6 1532.2 L558.6 1532.2 L559.4 1517.1 L560.3 1500.2 L561.2 1482.0 L562.0 1462.7 L562.9 1442.8 L563.8 1423.0 L564.6 1403.7 L565.5 1385.4 L566.4 1368.6 L567.2 1353.4 L567.2 1353.4 L568.1 1365.3 L569.0 1375.8 L569.9 1386.5 L570.7 1398.3 L571.6 1412.0 L572.5 1427.6 L573.3 1445.0 L574.2 1463.6 L575.1 1482.2 L575.9 1499.8 L576.8 1515.1 L577.7 1526.9 L578.6 1534.2 L579.4 1536.7 L579.4 1536.7 L580.3 1532.1 L581.2 1518.7 L582.1 1498.5 L582.9 1474.4 L583.8 1449.7 L584.7 1427.0 L585.6 1407.8 L586.4 1392.1 L587.3 1378.1 L588.2 1362.7 L588.2 1362.7 L589.1 1375.0 L590.0 1385.9 L590.9 1397.1 L591.7 1409.8 L592.6 1424.6 L593.5 1441.6 L594.4 1460.3 L595.3 1479.7 L596.2 1498.4 L597.1 1515.0 L598.0 1528.0 L598.8 1536.2 L599.7 1538.9 L599.7 1538.9 L600.6 1536.3 L601.5 1528.5 L602.3 1516.2 L603.2 1500.5 L604.1 1482.7 L605.0 1464.3 L605.8 1446.6 L606.7 1430.4 L607.6 1416.3 L608.4 1404.2 L609.3 1393.6 L610.2 1383.3 L611.1 1371.6 L611.1 1371.6 L611.9 1383.6 L612.7 1394.2 L613.6 1405.4 L614.4 1418.5 L615.2 1433.8 L616.1 1451.4 L616.9 1470.2 L617.8 1489.0 L618.6 1506.0 L619.4 1519.5 L620.3 1528.2 L621.1 1531.1 L621.1 1531.1 L622.0 1529.0 L622.8 1522.7 L623.7 1512.6 L624.5 1499.5 L625.4 1484.4 L626.2 1468.4 L627.1 1452.5 L627.9 1437.6 L628.8 1424.1 L629.7 1412.4 L630.5 1402.3 L631.4 1393.1 L632.2 1384.1 L633.1 1373.9 L633.1 1373.9 L634.0 1389.9 L634.9 1408.0 L635.8 1427.8 L636.8 1448.4 L637.7 1469.0 L638.6 1488.7 L639.6 1506.9 L640.5 1522.9 L644.5 1522.9 L645.3 1510.8 L646.2 1497.4 L647.0 1483.0 L647.9 1467.7 L648.7 1451.9 L649.6 1435.9 L650.4 1420.1 L651.3 1404.9 L652.1 1390.4 L653.0 1377.1 L653.8 1365.0 L653.8 1365.0 L654.6 1375.5 L655.5 1384.8 L656.3 1394.2 L657.2 1404.6 L658.0 1416.7 L658.8 1430.5 L659.7 1445.8 L660.5 1462.2 L661.4 1478.6 L662.2 1494.1 L663.0 1507.6 L663.9 1518.0 L664.7 1524.5 L665.6 1526.7 L665.6 1526.7 L666.4 1523.5 L667.3 1513.9 L668.2 1499.2 L669.1 1481.2 L669.9 1462.0 L670.8 1443.4 L671.7 1426.8 L672.6 1412.8 L673.4 1401.1 L674.3 1390.3 L675.2 1378.3 L675.2 1378.3 L676.0 1388.5 L676.9 1397.6 L677.8 1406.9 L678.7 1417.5 L679.5 1429.9 L680.4 1444.1 L681.3 1459.6 L682.1 1475.8 L683.0 1491.4 L683.9 1505.2 L684.8 1516.0 L685.6 1522.8 L686.5 1525.1 L686.5 1525.1 L687.4 1523.2 L688.2 1517.5 L689.1 1508.3 L690.0 1496.4 L690.9 1482.7 L691.7 1468.1 L692.6 1453.7 L693.5 1440.2 L694.3 1428.0 L695.2 1417.3 L696.1 1408.1 L696.9 1399.8 L697.8 1391.6 L698.7 1382.3 L698.7 1382.3 L699.5 1394.6 L700.4 1405.8 L701.3 1418.4 L702.1 1433.8 L703.0 1451.9 L703.8 1471.7 L704.7 1491.0 L705.5 1507.2 L706.4 1517.9 L707.2 1521.6 L707.2 1521.6 L708.1 1519.6 L709.0 1513.7 L709.8 1504.3 L710.7 1492.0 L711.6 1478.0 L712.5 1463.1 L713.3 1448.3 L714.2 1434.3 L715.1 1421.8 L715.9 1410.9 L716.8 1401.5 L717.7 1392.9 L718.5 1384.5 L719.4 1375.0 L719.4 1375.0 L720.3 1390.0 L721.1 1407.1 L722.0 1425.6 L722.8 1444.9 L723.6 1464.3 L724.5 1482.8 L725.3 1499.8 L726.2 1514.9 L730.2 1514.9 L731.0 1505.2 L731.9 1494.6 L732.7 1483.2 L733.6 1471.2 L734.4 1458.6 L735.3 1445.8 L736.1 1433.0 L737.0 1420.5 L737.8 1408.4 L738.7 1397.0 L739.5 1386.4 L740.4 1376.8 L740.4 1376.8 L741.2 1386.4 L742.1 1394.9 L742.9 1403.7 L743.8 1413.7 L744.7 1425.4 L745.5 1438.8 L746.4 1453.5 L747.2 1468.7 L748.1 1483.4 L748.9 1496.5 L749.8 1506.7 L750.7 1513.1 L751.5 1515.3 L751.5 1515.3 L752.4 1512.9 L753.2 1505.8 L754.0 1494.6 L754.9 1480.7 L755.7 1465.3 L756.5 1449.8 L757.4 1435.4 L758.2 1422.8 L759.0 1412.1 L759.9 1402.9 L760.7 1394.1 L761.5 1384.3 L761.5 1384.3 L762.4 1393.4 L763.2 1401.5 L764.1 1409.8 L764.9 1419.3 L765.7 1430.3 L766.6 1443.0 L767.4 1456.9 L768.3 1471.3 L769.1 1485.2 L769.9 1497.5 L770.8 1507.1 L771.6 1513.2 L772.4 1515.3 L772.4 1515.3 L773.3 1513.6 L774.1 1508.6 L775.0 1500.6 L775.8 1490.2 L776.6 1478.3 L777.5 1465.6 L778.3 1453.1 L779.2 1441.3 L780.0 1430.6 L780.9 1421.4 L781.7 1413.3 L782.5 1406.1 L783.4 1399.0 L784.2 1390.9 L784.2 1390.9 L785.1 1400.2 L785.9 1408.5 L786.7 1417.3 L787.6 1427.5 L788.4 1439.6 L789.2 1453.3 L790.1 1468.0 L790.9 1482.7 L791.7 1496.0 L792.6 1506.6 L793.4 1513.4 L794.2 1515.7 L794.2 1515.7 L795.1 1514.0 L795.9 1508.7 L796.8 1500.3 L797.6 1489.5 L798.5 1477.0 L799.3 1463.7 L800.1 1450.6 L801.0 1438.2 L801.8 1427.1 L802.7 1417.4 L803.5 1409.0 L804.3 1401.4 L805.2 1393.9 L806.0 1385.4 L806.0 1385.4 L806.9 1398.6 L807.9 1413.6 L808.8 1429.8 L809.7 1446.8 L810.6 1463.7 L811.5 1480.0 L812.5 1494.9 L813.4 1508.1 L817.4 1508.1 L818.3 1500.0 L819.1 1491.2 L820.0 1481.7 L820.9 1471.7 L821.7 1461.2 L822.6 1450.6 L823.5 1439.9 L824.3 1429.5 L825.2 1419.4 L826.1 1409.9 L827.0 1401.1 L827.8 1393.1 L827.8 1393.1 L828.7 1401.6 L829.6 1409.2 L830.4 1417.2 L831.3 1426.5 L832.2 1437.5 L833.1 1450.0 L833.9 1463.5 L834.8 1476.9 L835.7 1489.0 L836.5 1498.7 L837.4 1504.9 L838.3 1507.0 L838.3 1507.0 L839.2 1504.4 L840.1 1496.9 L841.0 1485.2 L841.9 1470.9 L842.7 1455.7 L843.6 1440.9 L844.5 1427.8 L845.4 1416.7 L846.3 1407.4 L847.2 1398.9 L848.1 1389.4 L848.1 1389.4 L849.0 1397.8 L849.9 1405.3 L850.8 1413.0 L851.6 1421.8 L852.5 1432.0 L853.4 1443.8 L854.3 1456.7 L855.2 1470.1 L856.1 1483.0 L857.0 1494.4 L857.9 1503.4 L858.8 1509.0 L859.6 1510.9 L859.6 1510.9 L860.5 1509.2 L861.4 1504.0 L862.3 1495.8 L863.1 1485.3 L864.0 1473.5 L864.9 1461.3 L865.8 1449.5 L866.6 1438.7 L867.5 1429.3 L868.4 1421.3 L869.2 1414.2 L870.1 1407.3 L871.0 1399.6 L871.0 1399.6 L871.8 1408.4 L872.7 1416.4 L873.5 1425.0 L874.4 1435.3 L875.2 1447.5 L876.1 1461.1 L876.9 1475.3 L877.8 1488.5 L878.7 1499.3 L879.5 1506.4 L880.4 1508.7 L880.4 1508.7 L881.2 1507.3 L882.1 1502.9 L883.0 1495.9 L883.9 1486.8 L884.8 1476.3 L885.7 1465.2 L886.6 1454.2 L887.5 1443.8 L888.3 1434.5 L889.2 1426.4 L890.1 1419.3 L891.0 1413.0 L891.9 1406.7 L892.8 1399.6 L892.8 1399.6 L893.7 1414.3 L894.7 1431.4 L895.6 1449.8 L896.5 1468.2 L897.5 1485.3 L898.4 1500.0 L902.4 1500.0 L903.3 1493.3 L904.1 1485.9 L905.0 1478.0 L905.8 1469.7 L906.7 1461.0 L907.5 1452.1 L908.4 1443.1 L909.2 1434.2 L910.1 1425.6 L910.9 1417.2 L911.8 1409.3 L912.6 1402.0 L913.5 1395.2 L913.5 1395.2 L914.3 1402.4 L915.2 1408.8 L916.0 1415.3 L916.8 1422.7 L917.7 1431.4 L918.5 1441.4 L919.4 1452.3 L920.2 1463.6 L921.0 1474.6 L921.9 1484.3 L922.7 1491.9 L923.6 1496.7 L924.4 1498.3 L924.4 1498.3 L925.3 1496.0 L926.2 1489.4 L927.1 1479.2 L928.0 1466.7 L928.9 1453.3 L929.7 1440.4 L930.6 1428.9 L931.5 1419.2 L932.4 1411.1 L933.3 1403.6 L934.2 1395.2 L934.2 1395.2 L935.1 1402.9 L936.0 1409.6 L936.8 1416.6 L937.7 1424.5 L938.6 1433.7 L939.4 1444.3 L940.3 1455.9 L941.2 1468.0 L942.1 1479.6 L942.9 1489.9 L943.8 1498.0 L944.7 1503.1 L945.5 1504.8 L945.5 1504.8 L946.4 1503.2 L947.2 1498.5 L948.1 1491.1 L948.9 1481.6 L949.7 1470.9 L950.6 1459.8 L951.4 1449.1 L952.3 1439.4 L953.1 1430.9 L953.9 1423.6 L954.8 1417.2 L955.6 1411.0 L956.4 1404.0 L956.4 1404.0 L957.3 1411.6 L958.1 1418.4 L959.0 1425.6 L959.8 1433.9 L960.6 1443.7 L961.5 1454.9 L962.3 1467.0 L963.1 1479.0 L964.0 1489.8 L964.8 1498.5 L965.6 1504.0 L966.5 1505.9 L966.5 1505.9 L967.4 1504.4 L968.2 1500.1 L969.1 1493.1 L970.0 1484.1 L970.9 1473.6 L971.8 1462.6 L972.7 1451.7 L973.6 1441.4 L974.5 1432.1 L975.3 1424.0 L976.2 1417.0 L977.1 1410.7 L978.0 1404.5 L978.9 1397.4 L978.9 1397.4 L979.8 1406.9 L980.6 1417.5 L981.5 1429.0 L982.4 1441.1 L983.2 1453.5 L984.1 1465.6 L985.0 1477.1 L985.8 1487.7 L986.7 1497.2 L990.7 1497.2 L991.6 1489.0 L992.5 1479.8 L993.4 1469.9 L994.2 1459.5 L995.1 1448.7 L996.0 1438.0 L996.9 1427.5 L997.8 1417.6 L998.7 1408.5 L999.5 1400.3 L999.5 1400.3 L1000.4 1406.3 L1001.3 1411.7 L1002.2 1417.1 L1003.1 1423.1 L1003.9 1430.0 L1004.8 1437.9 L1005.7 1446.8 L1006.6 1456.2 L1007.5 1465.6 L1008.3 1474.5 L1009.2 1482.3 L1010.1 1488.3 L1011.0 1492.0 L1011.9 1493.2 L1011.9 1493.2 L1012.7 1491.2 L1013.6 1485.1 L1014.5 1475.9 L1015.3 1464.9 L1016.2 1453.7 L1017.0 1443.4 L1017.9 1434.7 L1018.8 1427.5 L1019.6 1421.2 L1020.5 1414.2 L1020.5 1414.2 L1021.3 1418.7 L1022.2 1422.7 L1023.0 1426.8 L1023.9 1431.3 L1024.7 1436.5 L1025.6 1442.5 L1026.5 1449.1 L1027.3 1456.1 L1028.2 1463.2 L1029.0 1469.9 L1029.9 1475.7 L1030.7 1480.2 L1031.6 1483.0 L1032.4 1484.0 L1032.4 1484.0 L1033.3 1483.2 L1034.1 1481.1 L1035.0 1477.6 L1035.8 1473.1 L1036.7 1468.0 L1037.5 1462.5 L1038.4 1457.0 L1039.2 1451.9 L1040.1 1447.3 L1040.9 1443.3 L1041.8 1439.8 L1042.6 1436.7 L1043.5 1433.6 L1044.3 1430.1 L1044.3 1430.1 L1045.2 1433.5 L1046.1 1436.6 L1046.9 1440.1 L1047.8 1444.4 L1048.7 1449.4 L1049.5 1454.9 L1050.4 1460.2 L1051.2 1464.7 L1052.1 1467.7 L1053.0 1468.7 L1053.0 1468.7 L1053.9 1468.1 L1054.8 1466.3 L1055.7 1463.6 L1056.6 1460.2 L1057.5 1456.6 L1058.4 1453.1 L1059.3 1450.0 L1060.2 1447.4 L1061.1 1445.2 L1062.0 1443.2 L1062.9 1441.0 L1062.9 1441.0 L1063.9 1443.2 L1064.8 1445.3 L1065.7 1448.2 L1066.7 1451.7 L1067.6 1455.2 L1068.6 1457.8 L1069.5 1458.8 L1069.5 1458.8 L1070.4 1458.5 L1071.3 1457.5 L1072.1 1456.1 L1073.0 1454.2 L1073.9 1452.0 L1074.7 1449.8 L1075.6 1447.7 L1076.5 1445.8 L1077.3 1444.1 L1078.2 1442.6 L1079.1 1441.4 L1079.9 1440.1 L1080.8 1438.7 L1080.8 1438.7 L1081.7 1442.4 L1082.6 1445.9 L1083.5 1450.3 L1084.4 1455.7 L1085.4 1461.7 L1086.3 1467.3 L1087.2 1471.3 L1088.1 1472.7 L1088.1 1472.7 L1089.0 1471.7 L1089.9 1468.9 L1090.8 1464.6 L1091.7 1459.2 L1092.6 1453.5 L1093.5 1448.0 L1094.4 1443.1 L1095.3 1439.0 L1096.2 1435.5 L1097.1 1432.3 L1098.0 1428.8 L1098.0 1428.8 L1098.9 1432.9 L1099.8 1436.6 L1100.7 1440.5 L1101.6 1445.0 L1102.5 1450.3 L1103.3 1456.4 L1104.2 1462.9 L1105.1 1469.4 L1106.0 1475.3 L1106.9 1480.0 L1107.8 1483.0 L1108.6 1484.0 L1108.6 1484.0 L1109.5 1483.1 L1110.3 1480.4 L1111.2 1476.0 L1112.0 1470.5 L1112.9 1464.0 L1113.8 1457.2 L1114.6 1450.4 L1115.5 1444.0 L1116.3 1438.3 L1117.2 1433.3 L1118.0 1429.0 L1118.9 1425.1 L1119.7 1421.2 L1120.6 1416.9 L1120.6 1416.9 L1121.4 1423.5 L1122.3 1429.5 L1123.2 1436.3 L1124.0 1444.6 L1124.9 1454.4 L1125.7 1465.0 L1126.6 1475.4 L1127.5 1484.2 L1128.3 1489.9 L1129.2 1491.9 L1129.2 1491.9 L1130.0 1490.8 L1130.9 1487.5 L1131.7 1482.2 L1132.6 1475.3 L1133.4 1467.4 L1134.3 1459.1 L1135.1 1450.7 L1136.0 1442.9 L1136.9 1435.9 L1137.7 1429.8 L1138.6 1424.4 L1139.4 1419.6 L1140.3 1414.9 L1141.1 1409.6 L1141.1 1409.6 L1142.0 1416.9 L1142.8 1423.7 L1143.7 1431.3 L1144.6 1440.5 L1145.4 1451.4 L1146.3 1463.3 L1147.1 1474.9 L1148.0 1484.6 L1148.9 1491.0 L1149.7 1493.2 L1149.7 1493.2 L1150.6 1492.1 L1151.4 1488.6 L1152.3 1483.1 L1153.1 1475.9 L1154.0 1467.6 L1154.8 1458.8 L1155.7 1450.1 L1156.5 1441.9 L1157.4 1434.5 L1158.3 1428.1 L1159.1 1422.5 L1160.0 1417.5 L1160.8 1412.5 L1161.7 1406.9 L1161.7 1406.9 L1162.5 1414.9 L1163.4 1422.4 L1164.3 1431.2 L1165.2 1442.1 L1166.1 1454.7 L1167.0 1467.7 L1167.9 1479.1 L1168.7 1486.9 L1169.6 1489.5 L1169.6 1489.5 L1170.5 1488.5 L1171.4 1485.3 L1172.3 1480.2 L1173.2 1473.6 L1174.1 1466.0 L1175.0 1458.0 L1175.8 1450.0 L1176.7 1442.5 L1177.6 1435.8 L1178.5 1429.9 L1179.4 1424.8 L1180.3 1420.2 L1181.2 1415.6 L1182.1 1410.5 L1182.1 1410.5 L1182.9 1415.3 L1183.8 1419.7 L1184.6 1424.0 L1185.5 1428.8 L1186.3 1434.4 L1187.2 1440.8 L1188.1 1447.8 L1188.9 1455.4 L1189.8 1463.0 L1190.6 1470.1 L1191.5 1476.4 L1192.3 1481.2 L1193.2 1484.2 L1194.0 1485.2 L1194.0 1485.2 L1195.0 1483.3 L1195.9 1477.9 L1196.8 1469.7 L1197.7 1460.0 L1198.6 1450.0 L1199.5 1440.9 L1200.5 1433.1 L1201.4 1426.7 L1202.3 1421.1 L1203.2 1414.9 L1203.2 1414.9 L1204.1 1419.4 L1204.9 1423.5 L1205.8 1427.6 L1206.7 1432.1 L1207.6 1437.3 L1208.4 1443.3 L1209.3 1450.0 L1210.2 1457.1 L1211.1 1464.3 L1211.9 1471.0 L1212.8 1476.9 L1213.7 1481.4 L1214.5 1484.2 L1215.4 1485.2 L1215.4 1485.2 L1216.3 1484.0 L1217.1 1480.6 L1218.0 1475.1 L1218.8 1468.3 L1219.7 1460.8 L1220.5 1453.3 L1221.4 1446.3 L1222.2 1440.1 L1223.1 1434.9 L1223.9 1430.4 L1224.8 1426.2 L1225.7 1421.4 L1225.7 1421.4 L1226.5 1426.6 L1227.4 1431.2 L1228.3 1436.3 L1229.2 1442.3 L1230.1 1449.4 L1231.0 1457.4 L1231.9 1465.6 L1232.8 1473.4 L1233.7 1479.7 L1234.6 1483.8 L1235.5 1485.2 L1235.5 1485.2 L1236.3 1484.4 L1237.2 1482.0 L1238.0 1478.2 L1238.9 1473.3 L1239.7 1467.6 L1240.6 1461.7 L1241.5 1455.7 L1242.3 1450.1 L1243.2 1445.1 L1244.0 1440.7 L1244.9 1436.9 L1245.7 1433.4 L1246.6 1430.0 L1247.5 1426.2 L1247.5 1426.2 L1248.3 1430.7 L1249.2 1434.7 L1250.1 1439.0 L1251.0 1444.2 L1251.9 1450.4 L1252.8 1457.2 L1253.7 1464.4 L1254.6 1471.1 L1255.5 1476.5 L1256.4 1480.1 L1257.3 1481.3 L1257.3 1481.3 L1258.1 1480.4 L1259.0 1477.9 L1259.8 1473.9 L1260.7 1468.8 L1261.6 1462.8 L1262.4 1456.5 L1263.3 1450.2 L1264.1 1444.4 L1265.0 1439.1 L1265.8 1434.4 L1266.7 1430.4 L1267.5 1426.8 L1268.4 1423.2 L1269.3 1419.2 L1269.3 1419.2 L1270.1 1423.4 L1270.9 1427.2 L1271.8 1431.0 L1272.6 1435.4 L1273.5 1440.5 L1274.3 1446.3 L1275.1 1452.7 L1276.0 1459.4 L1276.8 1465.8 L1277.6 1471.5 L1278.5 1476.0 L1279.3 1478.8 L1280.2 1479.7 L1280.2 1479.7 L1281.0 1478.4 L1281.9 1474.5 L1282.7 1468.5 L1283.6 1461.2 L1284.4 1453.3 L1285.3 1445.8 L1286.1 1439.0 L1287.0 1433.3 L1287.8 1428.5 L1288.7 1424.1 L1289.5 1419.2 L1289.5 1419.2 L1290.4 1423.3 L1291.3 1426.9 L1292.2 1430.5 L1293.1 1434.6 L1294.0 1439.3 L1294.9 1444.6 L1295.7 1450.6 L1296.6 1456.9 L1297.5 1463.3 L1298.4 1469.3 L1299.3 1474.5 L1300.2 1478.6 L1301.1 1481.1 L1302.0 1481.9 L1302.0 1481.9 L1302.8 1480.1 L1303.7 1474.9 L1304.5 1467.1 L1305.4 1458.4 L1306.2 1449.8 L1307.0 1442.4 L1307.9 1436.5 L1308.7 1431.5 L1309.6 1426.0" fill="none" stroke="#0000ff" stroke-width="4" stroke-linejoin="round" shape-rendering="crispEdges"/>
<path clip-path="url(#clip-c)" d="M187.0 1287.2 L190.8 1288.0 L194.6 1288.8 L198.4 1289.6 L202.2 1290.4 L206.0 1291.2 L209.8 1292.0 L213.5 1292.8 L217.3 1293.6 L221.1 1294.3 L219.1 1304.0 L215.3 1303.3 L211.5 1302.5 L207.7 1301.7 L203.9 1300.9 L200.2 1300.1 L196.4 1299.3 L192.6 1298.5 L188.8 1297.7 L185.0 1296.9Z M250.5 1300.4 L254.2 1301.1 L257.9 1301.9 L261.6 1302.6 L265.3 1303.4 L269.0 1304.1 L272.6 1304.9 L276.3 1305.6 L280.0 1306.4 L283.7 1307.1 L287.4 1307.8 L291.1 1308.6 L294.8 1309.3 L292.9 1319.0 L289.2 1318.3 L285.5 1317.6 L281.8 1316.8 L278.1 1316.1 L274.4 1315.4 L270.7 1314.6 L267.0 1313.9 L263.3 1313.1 L259.6 1312.4 L255.9 1311.6 L252.2 1310.9 L248.5 1310.1Z M323.1 1314.8 L326.9 1315.5 L330.7 1316.2 L334.5 1316.9 L338.3 1317.6 L342.1 1318.2 L346.0 1318.9 L349.8 1319.6 L353.6 1320.3 L357.4 1320.9 L361.3 1321.6 L359.5 1331.4 L355.7 1330.8 L351.9 1330.1 L348.0 1329.4 L344.2 1328.7 L340.4 1328.0 L336.6 1327.4 L332.7 1326.7 L328.9 1326.0 L325.1 1325.3 L321.3 1324.6Z M388.1 1326.4 L391.8 1327.1 L395.6 1327.7 L399.4 1328.4 L403.2 1329.0 L407.0 1329.7 L410.8 1330.3 L414.6 1331.0 L418.4 1331.6 L422.2 1332.2 L426.0 1332.9 L424.4 1342.7 L420.6 1342.1 L416.8 1341.4 L413.0 1340.8 L409.1 1340.2 L405.3 1339.5 L401.5 1338.9 L397.7 1338.2 L393.9 1337.6 L390.1 1336.9 L386.3 1336.2Z M455.6 1337.5 L459.4 1338.0 L463.2 1338.5 L467.0 1338.9 L470.8 1339.3 L474.7 1339.7 L478.5 1340.2 L482.3 1340.6 L486.2 1341.1 L490.1 1341.6 L493.9 1342.1 L497.8 1342.7 L501.7 1343.2 L505.5 1343.9 L504.0 1353.7 L500.1 1353.1 L496.3 1352.6 L492.6 1352.0 L488.8 1351.5 L485.0 1351.1 L481.2 1350.6 L477.4 1350.2 L473.6 1349.8 L469.7 1349.4 L465.9 1348.9 L462.0 1348.5 L458.2 1348.0 L454.3 1347.5Z M536.0 1348.7 L540.0 1349.3 L543.9 1349.9 L547.9 1350.5 L551.9 1351.0 L555.9 1351.6 L559.9 1352.1 L563.9 1352.7 L567.9 1353.2 L571.9 1353.8 L570.5 1363.7 L566.5 1363.2 L562.5 1362.6 L558.5 1362.1 L554.5 1361.5 L550.5 1361.0 L546.5 1360.4 L542.5 1359.8 L538.5 1359.2 L534.5 1358.7Z M602.8 1357.9 L606.6 1358.4 L610.5 1358.8 L614.3 1359.3 L618.2 1359.8 L622.1 1360.3 L625.9 1360.8 L629.8 1361.3 L633.6 1361.8 L637.5 1362.3 L636.3 1372.2 L632.4 1371.8 L628.5 1371.3 L624.7 1370.8 L620.8 1370.3 L616.9 1369.8 L613.1 1369.3 L609.2 1368.8 L605.3 1368.3 L601.5 1367.8Z M669.4 1366.2 L673.2 1366.7 L677.0 1367.1 L680.8 1367.5 L684.5 1367.9 L688.3 1368.3 L692.1 1368.7 L695.9 1369.2 L699.7 1369.6 L703.5 1370.0 L707.3 1370.4 L711.1 1370.8 L714.9 1371.3 L713.7 1381.3 L709.9 1380.9 L706.1 1380.4 L702.4 1380.0 L698.6 1379.6 L694.8 1379.2 L691.0 1378.8 L687.2 1378.4 L683.4 1378.0 L679.6 1377.5 L675.8 1377.1 L672.0 1376.7 L668.2 1376.2Z M747.7 1375.4 L751.5 1375.7 L755.3 1376.1 L759.1 1376.4 L763.0 1376.7 L766.8 1377.0 L770.6 1377.3 L774.4 1377.6 L778.3 1377.9 L782.1 1378.2 L781.3 1388.3 L777.5 1388.0 L773.7 1387.7 L769.8 1387.4 L766.0 1387.1 L762.1 1386.8 L758.3 1386.5 L754.4 1386.2 L750.6 1385.8 L746.7 1385.4Z M814.7 1380.4 L818.4 1380.8 L822.2 1381.2 L826.0 1381.6 L829.7 1382.1 L833.4 1382.5 L837.1 1383.0 L840.8 1383.5 L844.5 1383.9 L848.2 1384.3 L851.9 1384.7 L850.8 1394.8 L847.0 1394.4 L843.3 1393.9 L839.6 1393.5 L835.9 1393.0 L832.2 1392.5 L828.5 1392.0 L824.8 1391.6 L821.1 1391.2 L817.4 1390.8 L813.8 1390.5Z M882.7 1387.7 L886.5 1388.2 L890.3 1388.6 L894.1 1389.2 L898.0 1389.7 L901.8 1390.2 L905.6 1390.8 L909.4 1391.4 L913.2 1392.0 L917.1 1392.7 L920.9 1393.3 L924.7 1394.0 L923.0 1403.8 L919.2 1403.2 L915.4 1402.5 L911.6 1401.9 L907.9 1401.3 L904.1 1400.7 L900.3 1400.2 L896.6 1399.6 L892.8 1399.1 L889.0 1398.6 L885.3 1398.1 L881.5 1397.7Z M954.7 1400.3 L958.4 1401.2 L962.1 1402.1 L965.8 1403.0 L969.5 1404.0 L973.3 1405.0 L977.0 1406.0 L980.8 1407.1 L984.5 1408.2 L988.3 1409.4 L992.0 1410.7 L988.9 1419.9 L985.3 1418.7 L981.6 1417.5 L978.0 1416.5 L974.4 1415.4 L970.7 1414.4 L967.1 1413.5 L963.4 1412.6 L959.7 1411.6 L956.1 1410.8 L952.4 1409.9Z M1016.4 1421.5 L1020.3 1423.0 L1024.1 1424.6 L1028.0 1426.1 L1032.0 1427.5 L1035.9 1429.1 L1039.9 1430.6 L1043.8 1432.2 L1047.9 1434.0 L1051.9 1435.8 L1047.9 1444.4 L1044.0 1442.7 L1040.2 1441.1 L1036.3 1439.5 L1032.4 1438.0 L1028.5 1436.5 L1024.6 1435.0 L1020.7 1433.5 L1016.7 1431.9 L1012.7 1430.3Z M1076.0 1448.5 L1079.7 1450.0 L1083.4 1451.4 L1087.2 1452.8 L1091.0 1454.2 L1094.8 1455.5 L1098.6 1456.9 L1102.4 1458.2 L1106.1 1459.6 L1109.9 1460.9 L1113.7 1462.1 L1117.4 1463.3 L1121.2 1464.5 L1124.9 1465.6 L1128.7 1466.6 L1132.4 1467.6 L1136.1 1468.4 L1133.9 1478.1 L1130.0 1477.1 L1126.1 1476.1 L1122.2 1475.0 L1118.3 1473.8 L1114.5 1472.6 L1110.6 1471.3 L1106.8 1470.0 L1103.0 1468.7 L1099.1 1467.3 L1095.3 1466.0 L1091.5 1464.6 L1087.7 1463.3 L1083.9 1461.9 L1080.0 1460.4 L1076.1 1458.9 L1072.2 1457.3Z M1165.2 1473.6 L1168.9 1473.9 L1172.6 1474.3 L1176.3 1474.5 L1180.0 1474.8 L1183.7 1475.0 L1187.5 1475.3 L1191.2 1475.5 L1194.9 1475.7 L1198.7 1475.9 L1198.1 1486.0 L1194.4 1485.9 L1190.6 1485.6 L1186.9 1485.4 L1183.1 1485.2 L1179.3 1484.9 L1175.5 1484.7 L1171.8 1484.4 L1168.0 1484.0 L1164.2 1483.7Z M1233.0 1477.2 L1237.0 1477.3 L1240.9 1477.4 L1244.8 1477.5 L1248.7 1477.6 L1252.6 1477.6 L1256.5 1477.7 L1260.5 1477.7 L1264.4 1477.8 L1268.3 1477.8 L1268.3 1488.1 L1264.3 1488.0 L1260.4 1488.0 L1256.4 1488.0 L1252.5 1487.9 L1248.5 1487.8 L1244.6 1487.7 L1240.7 1487.7 L1236.7 1487.6 L1232.8 1487.5Z M1304.4 1477.8 L1307.2 1477.8 L1310.0 1477.8 L1310.0 1488.1 L1307.2 1488.1 L1304.4 1488.1Z M185.0 1606.6 L188.8 1605.8 L192.6 1605.0 L196.4 1604.2 L200.2 1603.4 L203.9 1602.6 L207.7 1601.8 L211.5 1601.0 L215.3 1600.2 L219.1 1599.5 L221.1 1609.2 L217.3 1609.9 L213.5 1610.7 L209.8 1611.5 L206.0 1612.3 L202.2 1613.1 L198.4 1613.9 L194.6 1614.7 L190.8 1615.5 L187.0 1616.3Z M248.5 1593.4 L252.2 1592.6 L255.9 1591.9 L259.6 1591.1 L263.3 1590.4 L267.0 1589.6 L270.7 1588.9 L274.4 1588.1 L278.1 1587.4 L281.8 1586.7 L285.5 1585.9 L289.2 1585.2 L292.9 1584.5 L294.8 1594.2 L291.1 1594.9 L287.4 1595.7 L283.7 1596.4 L280.0 1597.1 L276.3 1597.9 L272.6 1598.6 L269.0 1599.4 L265.3 1600.1 L261.6 1600.9 L257.9 1601.6 L254.2 1602.4 L250.5 1603.1Z M321.3 1578.9 L325.1 1578.2 L328.9 1577.5 L332.7 1576.8 L336.6 1576.1 L340.4 1575.5 L344.2 1574.8 L348.0 1574.1 L351.9 1573.4 L355.7 1572.7 L359.5 1572.1 L361.3 1581.9 L357.4 1582.6 L353.6 1583.2 L349.8 1583.9 L346.0 1584.6 L342.1 1585.3 L338.3 1585.9 L334.5 1586.6 L330.7 1587.3 L326.9 1588.0 L323.1 1588.7Z M386.3 1567.3 L390.1 1566.6 L393.9 1565.9 L397.7 1565.3 L401.5 1564.6 L405.3 1564.0 L409.1 1563.3 L413.0 1562.7 L416.8 1562.1 L420.6 1561.4 L424.4 1560.8 L426.0 1570.6 L422.2 1571.3 L418.4 1571.9 L414.6 1572.5 L410.8 1573.2 L407.0 1573.8 L403.2 1574.5 L399.4 1575.1 L395.6 1575.8 L391.8 1576.4 L388.1 1577.1Z M454.3 1556.0 L458.2 1555.5 L462.0 1555.0 L465.9 1554.6 L469.7 1554.1 L473.6 1553.7 L477.4 1553.3 L481.2 1552.9 L485.0 1552.4 L488.8 1552.0 L492.6 1551.5 L496.3 1550.9 L500.1 1550.4 L504.0 1549.8 L505.5 1559.6 L501.7 1560.3 L497.8 1560.8 L493.9 1561.4 L490.1 1561.9 L486.2 1562.4 L482.3 1562.9 L478.5 1563.3 L474.7 1563.8 L470.8 1564.2 L467.0 1564.6 L463.2 1565.0 L459.4 1565.5 L455.6 1566.0Z M534.5 1544.8 L538.5 1544.3 L542.5 1543.7 L546.5 1543.1 L550.5 1542.5 L554.5 1542.0 L558.5 1541.4 L562.5 1540.9 L566.5 1540.3 L570.5 1539.8 L571.9 1549.7 L567.9 1550.3 L563.9 1550.8 L559.9 1551.4 L555.9 1551.9 L551.9 1552.5 L547.9 1553.0 L543.9 1553.6 L540.0 1554.2 L536.0 1554.8Z M601.5 1535.7 L605.3 1535.2 L609.2 1534.7 L613.1 1534.2 L616.9 1533.7 L620.8 1533.2 L624.7 1532.7 L628.5 1532.2 L632.4 1531.7 L636.3 1531.3 L637.5 1541.2 L633.6 1541.7 L629.8 1542.2 L625.9 1542.7 L622.1 1543.2 L618.2 1543.7 L614.3 1544.2 L610.5 1544.7 L606.6 1545.1 L602.8 1545.6Z M668.2 1527.3 L672.0 1526.8 L675.8 1526.4 L679.6 1526.0 L683.4 1525.5 L687.2 1525.1 L691.0 1524.7 L694.8 1524.3 L698.6 1523.9 L702.4 1523.5 L706.1 1523.1 L709.9 1522.6 L713.7 1522.2 L714.9 1532.2 L711.1 1532.7 L707.3 1533.1 L703.5 1533.5 L699.7 1533.9 L695.9 1534.3 L692.1 1534.8 L688.3 1535.2 L684.5 1535.6 L680.8 1536.0 L677.0 1536.4 L673.2 1536.8 L669.4 1537.3Z M746.7 1518.1 L750.6 1517.7 L754.4 1517.3 L758.3 1517.0 L762.1 1516.7 L766.0 1516.4 L769.8 1516.1 L773.7 1515.8 L777.5 1515.5 L781.3 1515.2 L782.1 1525.3 L778.3 1525.6 L774.4 1525.9 L770.6 1526.2 L766.8 1526.5 L763.0 1526.8 L759.1 1527.1 L755.3 1527.4 L751.5 1527.8 L747.7 1528.1Z M813.8 1513.0 L817.4 1512.7 L821.1 1512.3 L824.8 1511.9 L828.5 1511.5 L832.2 1511.0 L835.9 1510.5 L839.6 1510.0 L843.3 1509.6 L847.0 1509.1 L850.8 1508.7 L851.9 1518.8 L848.2 1519.2 L844.5 1519.6 L840.8 1520.0 L837.1 1520.5 L833.4 1521.0 L829.7 1521.4 L826.0 1521.9 L822.2 1522.3 L818.4 1522.7 L814.7 1523.1Z M881.5 1505.8 L885.3 1505.4 L889.0 1504.9 L892.8 1504.4 L896.6 1503.9 L900.3 1503.3 L904.1 1502.8 L907.9 1502.2 L911.6 1501.6 L915.4 1501.0 L919.2 1500.3 L923.0 1499.7 L924.7 1509.5 L920.9 1510.2 L917.1 1510.8 L913.2 1511.5 L909.4 1512.1 L905.6 1512.7 L901.8 1513.3 L898.0 1513.8 L894.1 1514.3 L890.3 1514.9 L886.5 1515.3 L882.7 1515.8Z M952.4 1493.6 L956.1 1492.7 L959.7 1491.9 L963.4 1490.9 L967.1 1490.0 L970.7 1489.1 L974.4 1488.1 L978.0 1487.0 L981.6 1486.0 L985.3 1484.8 L988.9 1483.6 L992.0 1492.8 L988.3 1494.1 L984.5 1495.3 L980.8 1496.4 L977.0 1497.5 L973.3 1498.5 L969.5 1499.5 L965.8 1500.5 L962.1 1501.4 L958.4 1502.3 L954.7 1503.2Z M1012.7 1473.2 L1016.7 1471.6 L1020.7 1470.0 L1024.6 1468.5 L1028.5 1467.0 L1032.4 1465.5 L1036.3 1464.0 L1040.2 1462.4 L1044.0 1460.8 L1047.9 1459.1 L1051.9 1467.7 L1047.9 1469.5 L1043.8 1471.3 L1039.9 1472.9 L1035.9 1474.4 L1032.0 1476.0 L1028.0 1477.4 L1024.1 1478.9 L1020.3 1480.5 L1016.4 1482.0Z M1072.2 1446.2 L1076.1 1444.6 L1080.0 1443.1 L1083.9 1441.6 L1087.7 1440.2 L1091.5 1438.9 L1095.3 1437.5 L1099.1 1436.2 L1103.0 1434.8 L1106.8 1433.5 L1110.6 1432.2 L1114.5 1430.9 L1118.3 1429.7 L1122.2 1428.5 L1126.1 1427.4 L1130.0 1426.4 L1133.9 1425.4 L1136.1 1435.1 L1132.4 1435.9 L1128.7 1436.9 L1124.9 1437.9 L1121.2 1439.0 L1117.4 1440.2 L1113.7 1441.4 L1109.9 1442.6 L1106.1 1443.9 L1102.4 1445.3 L1098.6 1446.6 L1094.8 1448.0 L1091.0 1449.3 L1087.2 1450.7 L1083.4 1452.1 L1079.7 1453.5 L1076.0 1455.0Z M1164.2 1419.8 L1168.0 1419.5 L1171.8 1419.1 L1175.5 1418.8 L1179.3 1418.6 L1183.1 1418.3 L1186.9 1418.1 L1190.6 1417.9 L1194.4 1417.6 L1198.1 1417.5 L1198.7 1427.6 L1194.9 1427.8 L1191.2 1428.0 L1187.5 1428.2 L1183.7 1428.5 L1180.0 1428.7 L1176.3 1429.0 L1172.6 1429.2 L1168.9 1429.6 L1165.2 1429.9Z M1232.8 1416.0 L1236.7 1415.9 L1240.7 1415.8 L1244.6 1415.8 L1248.5 1415.7 L1252.5 1415.6 L1256.4 1415.5 L1260.4 1415.5 L1264.3 1415.5 L1268.3 1415.4 L1268.3 1425.7 L1264.4 1425.7 L1260.5 1425.8 L1256.5 1425.8 L1252.6 1425.9 L1248.7 1425.9 L1244.8 1426.0 L1240.9 1426.1 L1237.0 1426.2 L1233.0 1426.3Z M1304.4 1415.4 L1307.2 1415.4 L1310.0 1415.4 L1310.0 1425.7 L1307.2 1425.7 L1304.4 1425.7Z" fill="#007f00" stroke="none" shape-rendering="crispEdges"/>
<rect x="467.0" y="1259" width="24.6" height="385" fill="#bfdec5"/>
<g font-family="'Liberation Sans', Arial, sans-serif" font-size="60" fill="#000">
<g class="exp"><text transform="translate(186.3,1234.0) scale(1,1.03)">x </text><text transform="translate(296.5,1234.0) scale(1,1.03)" text-anchor="end">10</text><text transform="translate(296.5,1197.8) scale(1,1.03)" font-size="38">7</text></g>
<text transform="translate(169.7,1291.8) scale(1,1.03)" text-anchor="end">5</text>
<text transform="translate(169.7,1474.0) scale(1,1.03)" text-anchor="end">0</text>
<g class="neg"><text transform="translate(101.7,1661.5) scale(1,1.03)" textLength="36.7" lengthAdjust="spacingAndGlyphs">−</text><text transform="translate(169.7,1656.3) scale(1,1.03)" text-anchor="end">5</text></g>
<text transform="translate(186.0,1714.8) scale(1,1.03)" text-anchor="middle">0</text>
<text transform="translate(587.4,1714.8) scale(1,1.03)" text-anchor="middle">50</text>
<text transform="translate(990.4,1714.8) scale(1,1.03)" text-anchor="middle">100</text>
</g>
</g>
<g font-family="'Liberation Serif', 'Times New Roman', serif" fill="#000">
<g transform="translate(684,592.6)"><text transform="translate(0.61,0.30) scale(1.011,1)" font-size="60.00" font-style="italic">x </text><text transform="translate(60.35,1.69) scale(0.806,1)" font-size="67.67">(</text><text transform="translate(86.54,0.30) scale(1.082,1)" font-size="58.09">m</text><text transform="translate(146.54,1.69) scale(0.818,1)" font-size="67.67">)</text></g>
<g transform="translate(681.2,1180.4)"><text transform="translate(0.61,0.30) scale(1.011,1)" font-size="60.00" font-style="italic">x </text><text transform="translate(60.35,1.69) scale(0.806,1)" font-size="67.67">(</text><text transform="translate(86.54,0.30) scale(1.082,1)" font-size="58.09">m</text><text transform="translate(146.54,1.69) scale(0.818,1)" font-size="67.67">)</text></g>
<g transform="translate(683.9,1761.3)"><text transform="translate(0.61,0.30) scale(1.011,1)" font-size="60.00" font-style="italic">x </text><text transform="translate(60.35,1.69) scale(0.806,1)" font-size="67.67">(</text><text transform="translate(86.54,0.30) scale(1.082,1)" font-size="58.09">m</text><text transform="translate(146.54,1.69) scale(0.818,1)" font-size="67.67">)</text></g>
<g transform="translate(72.4,380.5) rotate(-90)"><text transform="translate(3.35,0.09) scale(1.010,1)" font-size="55.29" font-style="italic">p </text><text transform="translate(64.67,1.65) scale(0.779,1)" font-size="66.44">(</text><text transform="translate(89.78,0.00) scale(1.163,1)" font-size="60.61">P</text><text transform="translate(135.52,0.42) scale(1.128,1)" font-size="57.68">a</text><text transform="translate(171.45,1.65) scale(0.729,1)" font-size="66.44">)</text></g>
<g transform="translate(65.4,965.3) rotate(-90)"><text transform="translate(3.35,0.09) scale(1.010,1)" font-size="55.29" font-style="italic">p </text><text transform="translate(64.67,1.65) scale(0.779,1)" font-size="66.44">(</text><text transform="translate(89.78,0.00) scale(1.163,1)" font-size="60.61">P</text><text transform="translate(135.52,0.42) scale(1.128,1)" font-size="57.68">a</text><text transform="translate(171.45,1.65) scale(0.729,1)" font-size="66.44">)</text></g>
<g transform="translate(60.4,1534.5) rotate(-90)"><text transform="translate(3.35,0.09) scale(1.010,1)" font-size="55.29" font-style="italic">p </text><text transform="translate(64.67,1.65) scale(0.779,1)" font-size="66.44">(</text><text transform="translate(89.78,0.00) scale(1.163,1)" font-size="60.61">P</text><text transform="translate(135.52,0.42) scale(1.128,1)" font-size="57.68">a</text><text transform="translate(171.45,1.65) scale(0.729,1)" font-size="66.44">)</text></g>
<g class="plabel"><text transform="translate(1218.95,443.01) scale(0.777,1)" font-size="67.11">(</text><text transform="translate(1244.55,441.72) scale(1.203,1)" font-size="58.11">a</text><text transform="translate(1281.83,443.01) scale(0.779,1)" font-size="67.11">)</text></g>
<g class="plabel"><text transform="translate(1212.24,1022.61) scale(0.748,1)" font-size="67.11">(</text><text transform="translate(1243.30,1021.32) scale(0.956,1)" font-size="58.43">b</text><text transform="translate(1281.31,1022.61) scale(0.739,1)" font-size="67.11">)</text></g>
<g class="plabel"><text transform="translate(1209.66,1592.81) scale(0.742,1)" font-size="67.11">(</text><text transform="translate(1234.17,1591.53) scale(1.057,1)" font-size="57.50">c</text><text transform="translate(1272.22,1592.81) scale(0.688,1)" font-size="67.11">)</text></g>
</g>
</svg>
</body></html>
